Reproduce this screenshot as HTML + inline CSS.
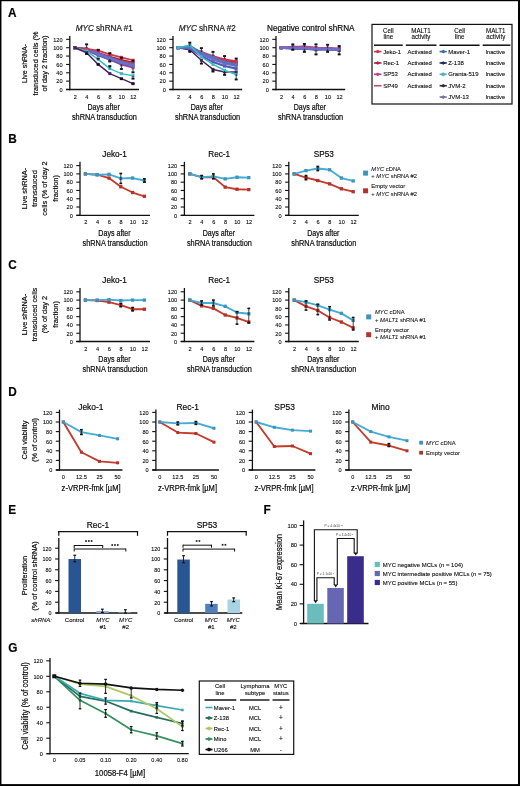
<!DOCTYPE html><html><head><meta charset="utf-8"><style>html,body{margin:0;padding:0;background:#fff;}#w{position:absolute;left:0;top:0;width:520px;height:786px;overflow:hidden;transform:translateZ(0);}svg{will-change:transform;filter:opacity(0.999);}svg{display:block;}text{stroke:#1a1a1a;stroke-width:0.2px;}text.s{stroke-width:0.1px;}</style></head><body><div id="w"><svg width="520" height="786" viewBox="0 0 520 786" font-family="Liberation Sans, sans-serif">
<rect x="0.00" y="0.00" width="520.00" height="786.00" fill="#fff"/>
<rect x="0.00" y="0.00" width="520.00" height="1.20" fill="#000"/>
<rect x="0.00" y="0.00" width="1.45" height="786.00" fill="#000"/>
<rect x="518.00" y="0.00" width="2.00" height="786.00" fill="#000"/>
<rect x="0.00" y="784.10" width="520.00" height="1.90" fill="#000"/>
<text x="7.90" y="16.90" font-size="12.74" text-anchor="start" textLength="8.52" lengthAdjust="spacingAndGlyphs" font-weight="bold" fill="#000">A</text>
<text x="8.30" y="142.80" font-size="12.74" text-anchor="start" textLength="8.52" lengthAdjust="spacingAndGlyphs" font-weight="bold" fill="#000">B</text>
<text x="8.30" y="269.20" font-size="12.74" text-anchor="start" textLength="8.52" lengthAdjust="spacingAndGlyphs" font-weight="bold" fill="#000">C</text>
<text x="8.30" y="396.00" font-size="12.74" text-anchor="start" textLength="8.52" lengthAdjust="spacingAndGlyphs" font-weight="bold" fill="#000">D</text>
<text x="8.30" y="514.20" font-size="12.74" text-anchor="start" textLength="7.87" lengthAdjust="spacingAndGlyphs" font-weight="bold" fill="#000">E</text>
<text x="263.60" y="514.20" font-size="12.74" text-anchor="start" textLength="7.21" lengthAdjust="spacingAndGlyphs" font-weight="bold" fill="#000">F</text>
<text x="8.30" y="652.20" font-size="12.74" text-anchor="start" textLength="9.18" lengthAdjust="spacingAndGlyphs" font-weight="bold" fill="#000">G</text>
<line x1="69.80" y1="36.00" x2="69.80" y2="90.15" stroke="#111" stroke-width="1.3" stroke-linecap="butt"/>
<line x1="66.10" y1="89.50" x2="139.00" y2="89.50" stroke="#111" stroke-width="1.3" stroke-linecap="butt"/>
<line x1="66.10" y1="89.50" x2="69.80" y2="89.50" stroke="#111" stroke-width="1.1" stroke-linecap="butt"/>
<text x="62.60" y="91.80" font-size="6.05" text-anchor="end" textLength="3.11" lengthAdjust="spacingAndGlyphs" class="s">0</text>
<line x1="66.10" y1="81.14" x2="69.80" y2="81.14" stroke="#111" stroke-width="1.1" stroke-linecap="butt"/>
<text x="62.60" y="83.44" font-size="6.05" text-anchor="end" textLength="6.23" lengthAdjust="spacingAndGlyphs" class="s">20</text>
<line x1="66.10" y1="72.78" x2="69.80" y2="72.78" stroke="#111" stroke-width="1.1" stroke-linecap="butt"/>
<text x="62.60" y="75.08" font-size="6.05" text-anchor="end" textLength="6.23" lengthAdjust="spacingAndGlyphs" class="s">40</text>
<line x1="66.10" y1="64.42" x2="69.80" y2="64.42" stroke="#111" stroke-width="1.1" stroke-linecap="butt"/>
<text x="62.60" y="66.72" font-size="6.05" text-anchor="end" textLength="6.23" lengthAdjust="spacingAndGlyphs" class="s">60</text>
<line x1="66.10" y1="56.06" x2="69.80" y2="56.06" stroke="#111" stroke-width="1.1" stroke-linecap="butt"/>
<text x="62.60" y="58.36" font-size="6.05" text-anchor="end" textLength="6.23" lengthAdjust="spacingAndGlyphs" class="s">80</text>
<line x1="66.10" y1="47.70" x2="69.80" y2="47.70" stroke="#111" stroke-width="1.1" stroke-linecap="butt"/>
<text x="62.60" y="50.00" font-size="6.05" text-anchor="end" textLength="9.34" lengthAdjust="spacingAndGlyphs" class="s">100</text>
<line x1="66.10" y1="39.34" x2="69.80" y2="39.34" stroke="#111" stroke-width="1.1" stroke-linecap="butt"/>
<text x="62.60" y="41.64" font-size="6.05" text-anchor="end" textLength="9.34" lengthAdjust="spacingAndGlyphs" class="s">120</text>
<polyline points="75.00,47.70 86.60,49.79 98.20,53.55 109.80,57.31 121.40,60.66 133.00,63.58" fill="none" stroke="#B85060" stroke-width="1.5" stroke-linejoin="round"/>
<rect x="73.50" y="46.20" width="3.00" height="3.00" fill="#B85060"/>
<rect x="85.10" y="48.29" width="3.00" height="3.00" fill="#B85060"/>
<rect x="96.70" y="52.05" width="3.00" height="3.00" fill="#B85060"/>
<rect x="108.30" y="55.81" width="3.00" height="3.00" fill="#B85060"/>
<rect x="119.90" y="59.16" width="3.00" height="3.00" fill="#B85060"/>
<rect x="131.50" y="62.08" width="3.00" height="3.00" fill="#B85060"/>
<polyline points="75.00,47.70 86.60,49.37 98.20,52.72 109.80,56.48 121.40,59.82 133.00,62.33" fill="none" stroke="#A8283E" stroke-width="1.5" stroke-linejoin="round"/>
<rect x="73.50" y="46.20" width="3.00" height="3.00" fill="#A8283E"/>
<rect x="85.10" y="47.87" width="3.00" height="3.00" fill="#A8283E"/>
<rect x="96.70" y="51.22" width="3.00" height="3.00" fill="#A8283E"/>
<rect x="108.30" y="54.98" width="3.00" height="3.00" fill="#A8283E"/>
<rect x="119.90" y="58.32" width="3.00" height="3.00" fill="#A8283E"/>
<rect x="131.50" y="60.83" width="3.00" height="3.00" fill="#A8283E"/>
<polyline points="75.00,47.70 86.60,49.79 98.20,54.81 109.80,59.82 121.40,64.84 133.00,67.76" fill="none" stroke="#B8408A" stroke-width="1.5" stroke-linejoin="round"/>
<rect x="73.50" y="46.20" width="3.00" height="3.00" fill="#B8408A"/>
<rect x="85.10" y="48.29" width="3.00" height="3.00" fill="#B8408A"/>
<rect x="96.70" y="53.31" width="3.00" height="3.00" fill="#B8408A"/>
<rect x="108.30" y="58.32" width="3.00" height="3.00" fill="#B8408A"/>
<rect x="119.90" y="63.34" width="3.00" height="3.00" fill="#B8408A"/>
<rect x="131.50" y="66.26" width="3.00" height="3.00" fill="#B8408A"/>
<polyline points="75.00,47.70 86.60,50.21 98.20,55.22 109.80,59.40 121.40,63.58 133.00,66.51" fill="none" stroke="#4F5BB0" stroke-width="2.1" stroke-linejoin="round"/>
<rect x="73.50" y="46.20" width="3.00" height="3.00" fill="#4F5BB0"/>
<rect x="85.10" y="48.71" width="3.00" height="3.00" fill="#4F5BB0"/>
<rect x="96.70" y="53.72" width="3.00" height="3.00" fill="#4F5BB0"/>
<rect x="108.30" y="57.90" width="3.00" height="3.00" fill="#4F5BB0"/>
<rect x="119.90" y="62.08" width="3.00" height="3.00" fill="#4F5BB0"/>
<rect x="131.50" y="65.01" width="3.00" height="3.00" fill="#4F5BB0"/>
<polyline points="75.00,47.70 86.60,48.54 98.20,53.55 109.80,57.73 121.40,61.91 133.00,64.84" fill="none" stroke="#5B6FC0" stroke-width="2.1" stroke-linejoin="round"/>
<rect x="73.50" y="46.20" width="3.00" height="3.00" fill="#5B6FC0"/>
<rect x="85.10" y="47.04" width="3.00" height="3.00" fill="#5B6FC0"/>
<rect x="96.70" y="52.05" width="3.00" height="3.00" fill="#5B6FC0"/>
<rect x="108.30" y="56.23" width="3.00" height="3.00" fill="#5B6FC0"/>
<rect x="119.90" y="60.41" width="3.00" height="3.00" fill="#5B6FC0"/>
<rect x="131.50" y="63.34" width="3.00" height="3.00" fill="#5B6FC0"/>
<polyline points="75.00,47.70 86.60,49.37 98.20,54.39 109.80,58.57 121.40,62.75 133.00,65.67" fill="none" stroke="#6E6EC8" stroke-width="2.1" stroke-linejoin="round"/>
<rect x="73.50" y="46.20" width="3.00" height="3.00" fill="#6E6EC8"/>
<rect x="85.10" y="47.87" width="3.00" height="3.00" fill="#6E6EC8"/>
<rect x="96.70" y="52.89" width="3.00" height="3.00" fill="#6E6EC8"/>
<rect x="108.30" y="57.07" width="3.00" height="3.00" fill="#6E6EC8"/>
<rect x="119.90" y="61.25" width="3.00" height="3.00" fill="#6E6EC8"/>
<rect x="131.50" y="64.17" width="3.00" height="3.00" fill="#6E6EC8"/>
<polyline points="75.00,47.70 86.60,48.95 98.20,50.63 109.80,54.39 121.40,57.31 133.00,60.24" fill="none" stroke="#D0344A" stroke-width="1.7" stroke-linejoin="round"/>
<rect x="73.50" y="46.20" width="3.00" height="3.00" fill="#D0344A"/>
<rect x="85.10" y="47.45" width="3.00" height="3.00" fill="#D0344A"/>
<rect x="96.70" y="49.13" width="3.00" height="3.00" fill="#D0344A"/>
<rect x="108.30" y="52.89" width="3.00" height="3.00" fill="#D0344A"/>
<rect x="119.90" y="55.81" width="3.00" height="3.00" fill="#D0344A"/>
<rect x="131.50" y="58.74" width="3.00" height="3.00" fill="#D0344A"/>
<polyline points="75.00,47.70 86.60,51.04 98.20,59.40 109.80,68.60 121.40,73.62 133.00,75.71" fill="none" stroke="#3ABCC8" stroke-width="1.5" stroke-linejoin="round"/>
<rect x="73.50" y="46.20" width="3.00" height="3.00" fill="#3ABCC8"/>
<rect x="85.10" y="49.54" width="3.00" height="3.00" fill="#3ABCC8"/>
<rect x="96.70" y="57.90" width="3.00" height="3.00" fill="#3ABCC8"/>
<rect x="108.30" y="67.10" width="3.00" height="3.00" fill="#3ABCC8"/>
<rect x="119.90" y="72.12" width="3.00" height="3.00" fill="#3ABCC8"/>
<rect x="131.50" y="74.21" width="3.00" height="3.00" fill="#3ABCC8"/>
<polyline points="75.00,47.70 86.60,52.72 98.20,64.42 109.80,73.62 121.40,78.63 133.00,83.65" fill="none" stroke="#4A2060" stroke-width="1.5" stroke-linejoin="round"/>
<rect x="73.50" y="46.20" width="3.00" height="3.00" fill="#4A2060"/>
<rect x="85.10" y="51.22" width="3.00" height="3.00" fill="#4A2060"/>
<rect x="96.70" y="62.92" width="3.00" height="3.00" fill="#4A2060"/>
<rect x="108.30" y="72.12" width="3.00" height="3.00" fill="#4A2060"/>
<rect x="119.90" y="77.13" width="3.00" height="3.00" fill="#4A2060"/>
<rect x="131.50" y="82.15" width="3.00" height="3.00" fill="#4A2060"/>
<line x1="86.60" y1="44.36" x2="86.60" y2="47.70" stroke="#111" stroke-width="0.8" stroke-linecap="butt"/>
<rect x="85.10" y="43.41" width="3.00" height="1.90" fill="#111"/>
<line x1="86.60" y1="53.97" x2="86.60" y2="52.72" stroke="#111" stroke-width="0.8" stroke-linecap="butt"/>
<rect x="85.10" y="53.02" width="3.00" height="1.90" fill="#111"/>
<line x1="98.20" y1="49.79" x2="98.20" y2="51.46" stroke="#111" stroke-width="0.8" stroke-linecap="butt"/>
<rect x="96.70" y="48.84" width="3.00" height="1.90" fill="#111"/>
<line x1="98.20" y1="58.57" x2="98.20" y2="59.40" stroke="#111" stroke-width="0.8" stroke-linecap="butt"/>
<rect x="96.70" y="57.62" width="3.00" height="1.90" fill="#111"/>
<line x1="98.20" y1="64.42" x2="98.20" y2="64.42" stroke="#111" stroke-width="0.8" stroke-linecap="butt"/>
<rect x="96.70" y="63.47" width="3.00" height="1.90" fill="#111"/>
<line x1="109.80" y1="53.13" x2="109.80" y2="55.22" stroke="#111" stroke-width="0.8" stroke-linecap="butt"/>
<rect x="108.30" y="52.18" width="3.00" height="1.90" fill="#111"/>
<line x1="109.80" y1="61.49" x2="109.80" y2="58.99" stroke="#111" stroke-width="0.8" stroke-linecap="butt"/>
<rect x="108.30" y="60.54" width="3.00" height="1.90" fill="#111"/>
<line x1="109.80" y1="66.09" x2="109.80" y2="68.60" stroke="#111" stroke-width="0.8" stroke-linecap="butt"/>
<rect x="108.30" y="65.14" width="3.00" height="1.90" fill="#111"/>
<line x1="121.40" y1="57.73" x2="121.40" y2="58.57" stroke="#111" stroke-width="0.8" stroke-linecap="butt"/>
<rect x="119.90" y="56.78" width="3.00" height="1.90" fill="#111"/>
<line x1="121.40" y1="69.02" x2="121.40" y2="64.42" stroke="#111" stroke-width="0.8" stroke-linecap="butt"/>
<rect x="119.90" y="68.07" width="3.00" height="1.90" fill="#111"/>
<line x1="121.40" y1="79.05" x2="121.40" y2="78.63" stroke="#111" stroke-width="0.8" stroke-linecap="butt"/>
<rect x="119.90" y="78.10" width="3.00" height="1.90" fill="#111"/>
<line x1="133.00" y1="60.66" x2="133.00" y2="61.08" stroke="#111" stroke-width="0.8" stroke-linecap="butt"/>
<rect x="131.50" y="59.71" width="3.00" height="1.90" fill="#111"/>
<line x1="133.00" y1="72.36" x2="133.00" y2="68.60" stroke="#111" stroke-width="0.8" stroke-linecap="butt"/>
<rect x="131.50" y="71.41" width="3.00" height="1.90" fill="#111"/>
<line x1="133.00" y1="78.63" x2="133.00" y2="75.71" stroke="#111" stroke-width="0.8" stroke-linecap="butt"/>
<rect x="131.50" y="77.68" width="3.00" height="1.90" fill="#111"/>
<line x1="133.00" y1="83.65" x2="133.00" y2="83.65" stroke="#111" stroke-width="0.8" stroke-linecap="butt"/>
<rect x="131.50" y="82.70" width="3.00" height="1.90" fill="#111"/>
<text x="75.30" y="98.90" font-size="5.88" text-anchor="middle" textLength="3.11" lengthAdjust="spacingAndGlyphs" class="s">2</text>
<text x="86.90" y="98.90" font-size="5.88" text-anchor="middle" textLength="3.11" lengthAdjust="spacingAndGlyphs" class="s">4</text>
<text x="98.50" y="98.90" font-size="5.88" text-anchor="middle" textLength="3.11" lengthAdjust="spacingAndGlyphs" class="s">6</text>
<text x="110.10" y="98.90" font-size="5.88" text-anchor="middle" textLength="3.11" lengthAdjust="spacingAndGlyphs" class="s">8</text>
<text x="121.70" y="98.90" font-size="5.88" text-anchor="middle" textLength="6.23" lengthAdjust="spacingAndGlyphs" class="s">10</text>
<text x="133.30" y="98.90" font-size="5.88" text-anchor="middle" textLength="6.23" lengthAdjust="spacingAndGlyphs" class="s">12</text>
<text x="103.60" y="109.80" font-size="8.58" text-anchor="middle" textLength="32.30" lengthAdjust="spacingAndGlyphs">Days after</text>
<text x="104.40" y="119.80" font-size="8.58" text-anchor="middle" textLength="65.00" lengthAdjust="spacingAndGlyphs">shRNA transduction</text>
<line x1="173.00" y1="36.00" x2="173.00" y2="90.15" stroke="#111" stroke-width="1.3" stroke-linecap="butt"/>
<line x1="169.30" y1="89.50" x2="242.20" y2="89.50" stroke="#111" stroke-width="1.3" stroke-linecap="butt"/>
<line x1="169.30" y1="89.50" x2="173.00" y2="89.50" stroke="#111" stroke-width="1.1" stroke-linecap="butt"/>
<text x="165.80" y="91.80" font-size="6.05" text-anchor="end" textLength="3.11" lengthAdjust="spacingAndGlyphs" class="s">0</text>
<line x1="169.30" y1="81.14" x2="173.00" y2="81.14" stroke="#111" stroke-width="1.1" stroke-linecap="butt"/>
<text x="165.80" y="83.44" font-size="6.05" text-anchor="end" textLength="6.23" lengthAdjust="spacingAndGlyphs" class="s">20</text>
<line x1="169.30" y1="72.78" x2="173.00" y2="72.78" stroke="#111" stroke-width="1.1" stroke-linecap="butt"/>
<text x="165.80" y="75.08" font-size="6.05" text-anchor="end" textLength="6.23" lengthAdjust="spacingAndGlyphs" class="s">40</text>
<line x1="169.30" y1="64.42" x2="173.00" y2="64.42" stroke="#111" stroke-width="1.1" stroke-linecap="butt"/>
<text x="165.80" y="66.72" font-size="6.05" text-anchor="end" textLength="6.23" lengthAdjust="spacingAndGlyphs" class="s">60</text>
<line x1="169.30" y1="56.06" x2="173.00" y2="56.06" stroke="#111" stroke-width="1.1" stroke-linecap="butt"/>
<text x="165.80" y="58.36" font-size="6.05" text-anchor="end" textLength="6.23" lengthAdjust="spacingAndGlyphs" class="s">80</text>
<line x1="169.30" y1="47.70" x2="173.00" y2="47.70" stroke="#111" stroke-width="1.1" stroke-linecap="butt"/>
<text x="165.80" y="50.00" font-size="6.05" text-anchor="end" textLength="9.34" lengthAdjust="spacingAndGlyphs" class="s">100</text>
<line x1="169.30" y1="39.34" x2="173.00" y2="39.34" stroke="#111" stroke-width="1.1" stroke-linecap="butt"/>
<text x="165.80" y="41.64" font-size="6.05" text-anchor="end" textLength="9.34" lengthAdjust="spacingAndGlyphs" class="s">120</text>
<polyline points="178.20,47.70 189.80,48.12 201.40,53.55 213.00,58.15 224.60,61.49 236.20,63.17" fill="none" stroke="#B85060" stroke-width="1.5" stroke-linejoin="round"/>
<rect x="176.70" y="46.20" width="3.00" height="3.00" fill="#B85060"/>
<rect x="188.30" y="46.62" width="3.00" height="3.00" fill="#B85060"/>
<rect x="199.90" y="52.05" width="3.00" height="3.00" fill="#B85060"/>
<rect x="211.50" y="56.65" width="3.00" height="3.00" fill="#B85060"/>
<rect x="223.10" y="59.99" width="3.00" height="3.00" fill="#B85060"/>
<rect x="234.70" y="61.67" width="3.00" height="3.00" fill="#B85060"/>
<polyline points="178.20,47.70 189.80,48.54 201.40,52.72 213.00,57.31 224.60,60.24 236.20,61.91" fill="none" stroke="#A8283E" stroke-width="1.5" stroke-linejoin="round"/>
<rect x="176.70" y="46.20" width="3.00" height="3.00" fill="#A8283E"/>
<rect x="188.30" y="47.04" width="3.00" height="3.00" fill="#A8283E"/>
<rect x="199.90" y="51.22" width="3.00" height="3.00" fill="#A8283E"/>
<rect x="211.50" y="55.81" width="3.00" height="3.00" fill="#A8283E"/>
<rect x="223.10" y="58.74" width="3.00" height="3.00" fill="#A8283E"/>
<rect x="234.70" y="60.41" width="3.00" height="3.00" fill="#A8283E"/>
<polyline points="178.20,47.70 189.80,48.95 201.40,53.97 213.00,58.99 224.60,62.75 236.20,64.42" fill="none" stroke="#B8408A" stroke-width="1.5" stroke-linejoin="round"/>
<rect x="176.70" y="46.20" width="3.00" height="3.00" fill="#B8408A"/>
<rect x="188.30" y="47.45" width="3.00" height="3.00" fill="#B8408A"/>
<rect x="199.90" y="52.47" width="3.00" height="3.00" fill="#B8408A"/>
<rect x="211.50" y="57.49" width="3.00" height="3.00" fill="#B8408A"/>
<rect x="223.10" y="61.25" width="3.00" height="3.00" fill="#B8408A"/>
<rect x="234.70" y="62.92" width="3.00" height="3.00" fill="#B8408A"/>
<polyline points="178.20,47.70 189.80,47.70 201.40,51.88 213.00,56.06 224.60,59.40 236.20,61.08" fill="none" stroke="#D0344A" stroke-width="1.7" stroke-linejoin="round"/>
<rect x="176.70" y="46.20" width="3.00" height="3.00" fill="#D0344A"/>
<rect x="188.30" y="46.20" width="3.00" height="3.00" fill="#D0344A"/>
<rect x="199.90" y="50.38" width="3.00" height="3.00" fill="#D0344A"/>
<rect x="211.50" y="54.56" width="3.00" height="3.00" fill="#D0344A"/>
<rect x="223.10" y="57.90" width="3.00" height="3.00" fill="#D0344A"/>
<rect x="234.70" y="59.58" width="3.00" height="3.00" fill="#D0344A"/>
<polyline points="178.20,47.70 189.80,49.79 201.40,60.24 213.00,69.44 224.60,71.94 236.20,71.94" fill="none" stroke="#4A2060" stroke-width="1.5" stroke-linejoin="round"/>
<rect x="176.70" y="46.20" width="3.00" height="3.00" fill="#4A2060"/>
<rect x="188.30" y="48.29" width="3.00" height="3.00" fill="#4A2060"/>
<rect x="199.90" y="58.74" width="3.00" height="3.00" fill="#4A2060"/>
<rect x="211.50" y="67.94" width="3.00" height="3.00" fill="#4A2060"/>
<rect x="223.10" y="70.44" width="3.00" height="3.00" fill="#4A2060"/>
<rect x="234.70" y="70.44" width="3.00" height="3.00" fill="#4A2060"/>
<polyline points="178.20,47.70 189.80,48.54 201.40,56.06 213.00,61.91 224.60,66.09 236.20,68.60" fill="none" stroke="#4F5BB0" stroke-width="2.1" stroke-linejoin="round"/>
<rect x="176.70" y="46.20" width="3.00" height="3.00" fill="#4F5BB0"/>
<rect x="188.30" y="47.04" width="3.00" height="3.00" fill="#4F5BB0"/>
<rect x="199.90" y="54.56" width="3.00" height="3.00" fill="#4F5BB0"/>
<rect x="211.50" y="60.41" width="3.00" height="3.00" fill="#4F5BB0"/>
<rect x="223.10" y="64.59" width="3.00" height="3.00" fill="#4F5BB0"/>
<rect x="234.70" y="67.10" width="3.00" height="3.00" fill="#4F5BB0"/>
<polyline points="178.20,47.70 189.80,47.28 201.40,54.39 213.00,59.40 224.60,63.58 236.20,66.09" fill="none" stroke="#6E6EC8" stroke-width="2.1" stroke-linejoin="round"/>
<rect x="176.70" y="46.20" width="3.00" height="3.00" fill="#6E6EC8"/>
<rect x="188.30" y="45.78" width="3.00" height="3.00" fill="#6E6EC8"/>
<rect x="199.90" y="52.89" width="3.00" height="3.00" fill="#6E6EC8"/>
<rect x="211.50" y="57.90" width="3.00" height="3.00" fill="#6E6EC8"/>
<rect x="223.10" y="62.08" width="3.00" height="3.00" fill="#6E6EC8"/>
<rect x="234.70" y="64.59" width="3.00" height="3.00" fill="#6E6EC8"/>
<polyline points="178.20,47.70 189.80,46.03 201.40,52.72 213.00,56.90 224.60,61.91 236.20,64.42" fill="none" stroke="#5B6FC0" stroke-width="2.1" stroke-linejoin="round"/>
<rect x="176.70" y="46.20" width="3.00" height="3.00" fill="#5B6FC0"/>
<rect x="188.30" y="44.53" width="3.00" height="3.00" fill="#5B6FC0"/>
<rect x="199.90" y="51.22" width="3.00" height="3.00" fill="#5B6FC0"/>
<rect x="211.50" y="55.40" width="3.00" height="3.00" fill="#5B6FC0"/>
<rect x="223.10" y="60.41" width="3.00" height="3.00" fill="#5B6FC0"/>
<rect x="234.70" y="62.92" width="3.00" height="3.00" fill="#5B6FC0"/>
<polyline points="178.20,47.70 189.80,45.19 201.40,56.90 213.00,64.42 224.60,70.27 236.20,74.45" fill="none" stroke="#3ABCC8" stroke-width="1.5" stroke-linejoin="round"/>
<rect x="176.70" y="46.20" width="3.00" height="3.00" fill="#3ABCC8"/>
<rect x="188.30" y="43.69" width="3.00" height="3.00" fill="#3ABCC8"/>
<rect x="199.90" y="55.40" width="3.00" height="3.00" fill="#3ABCC8"/>
<rect x="211.50" y="62.92" width="3.00" height="3.00" fill="#3ABCC8"/>
<rect x="223.10" y="68.77" width="3.00" height="3.00" fill="#3ABCC8"/>
<rect x="234.70" y="72.95" width="3.00" height="3.00" fill="#3ABCC8"/>
<line x1="189.80" y1="42.68" x2="189.80" y2="46.03" stroke="#111" stroke-width="0.8" stroke-linecap="butt"/>
<rect x="188.30" y="41.73" width="3.00" height="1.90" fill="#111"/>
<line x1="189.80" y1="51.88" x2="189.80" y2="49.79" stroke="#111" stroke-width="0.8" stroke-linecap="butt"/>
<rect x="188.30" y="50.93" width="3.00" height="1.90" fill="#111"/>
<line x1="201.40" y1="48.12" x2="201.40" y2="51.88" stroke="#111" stroke-width="0.8" stroke-linecap="butt"/>
<rect x="199.90" y="47.17" width="3.00" height="1.90" fill="#111"/>
<line x1="201.40" y1="63.58" x2="201.40" y2="61.08" stroke="#111" stroke-width="0.8" stroke-linecap="butt"/>
<rect x="199.90" y="62.63" width="3.00" height="1.90" fill="#111"/>
<line x1="213.00" y1="51.88" x2="213.00" y2="56.06" stroke="#111" stroke-width="0.8" stroke-linecap="butt"/>
<rect x="211.50" y="50.93" width="3.00" height="1.90" fill="#111"/>
<line x1="213.00" y1="71.53" x2="213.00" y2="68.60" stroke="#111" stroke-width="0.8" stroke-linecap="butt"/>
<rect x="211.50" y="70.58" width="3.00" height="1.90" fill="#111"/>
<line x1="224.60" y1="56.06" x2="224.60" y2="58.57" stroke="#111" stroke-width="0.8" stroke-linecap="butt"/>
<rect x="223.10" y="55.11" width="3.00" height="1.90" fill="#111"/>
<line x1="224.60" y1="74.87" x2="224.60" y2="71.11" stroke="#111" stroke-width="0.8" stroke-linecap="butt"/>
<rect x="223.10" y="73.92" width="3.00" height="1.90" fill="#111"/>
<line x1="236.20" y1="58.57" x2="236.20" y2="60.24" stroke="#111" stroke-width="0.8" stroke-linecap="butt"/>
<rect x="234.70" y="57.62" width="3.00" height="1.90" fill="#111"/>
<line x1="236.20" y1="79.47" x2="236.20" y2="73.62" stroke="#111" stroke-width="0.8" stroke-linecap="butt"/>
<rect x="234.70" y="78.52" width="3.00" height="1.90" fill="#111"/>
<text x="178.50" y="98.90" font-size="5.88" text-anchor="middle" textLength="3.11" lengthAdjust="spacingAndGlyphs" class="s">2</text>
<text x="190.10" y="98.90" font-size="5.88" text-anchor="middle" textLength="3.11" lengthAdjust="spacingAndGlyphs" class="s">4</text>
<text x="201.70" y="98.90" font-size="5.88" text-anchor="middle" textLength="3.11" lengthAdjust="spacingAndGlyphs" class="s">6</text>
<text x="213.30" y="98.90" font-size="5.88" text-anchor="middle" textLength="3.11" lengthAdjust="spacingAndGlyphs" class="s">8</text>
<text x="224.90" y="98.90" font-size="5.88" text-anchor="middle" textLength="6.23" lengthAdjust="spacingAndGlyphs" class="s">10</text>
<text x="236.50" y="98.90" font-size="5.88" text-anchor="middle" textLength="6.23" lengthAdjust="spacingAndGlyphs" class="s">12</text>
<text x="206.80" y="109.80" font-size="8.58" text-anchor="middle" textLength="32.30" lengthAdjust="spacingAndGlyphs">Days after</text>
<text x="207.60" y="119.80" font-size="8.58" text-anchor="middle" textLength="65.00" lengthAdjust="spacingAndGlyphs">shRNA transduction</text>
<line x1="276.00" y1="36.00" x2="276.00" y2="90.15" stroke="#111" stroke-width="1.3" stroke-linecap="butt"/>
<line x1="272.30" y1="89.50" x2="345.20" y2="89.50" stroke="#111" stroke-width="1.3" stroke-linecap="butt"/>
<line x1="272.30" y1="89.50" x2="276.00" y2="89.50" stroke="#111" stroke-width="1.1" stroke-linecap="butt"/>
<text x="268.80" y="91.80" font-size="6.05" text-anchor="end" textLength="3.11" lengthAdjust="spacingAndGlyphs" class="s">0</text>
<line x1="272.30" y1="81.14" x2="276.00" y2="81.14" stroke="#111" stroke-width="1.1" stroke-linecap="butt"/>
<text x="268.80" y="83.44" font-size="6.05" text-anchor="end" textLength="6.23" lengthAdjust="spacingAndGlyphs" class="s">20</text>
<line x1="272.30" y1="72.78" x2="276.00" y2="72.78" stroke="#111" stroke-width="1.1" stroke-linecap="butt"/>
<text x="268.80" y="75.08" font-size="6.05" text-anchor="end" textLength="6.23" lengthAdjust="spacingAndGlyphs" class="s">40</text>
<line x1="272.30" y1="64.42" x2="276.00" y2="64.42" stroke="#111" stroke-width="1.1" stroke-linecap="butt"/>
<text x="268.80" y="66.72" font-size="6.05" text-anchor="end" textLength="6.23" lengthAdjust="spacingAndGlyphs" class="s">60</text>
<line x1="272.30" y1="56.06" x2="276.00" y2="56.06" stroke="#111" stroke-width="1.1" stroke-linecap="butt"/>
<text x="268.80" y="58.36" font-size="6.05" text-anchor="end" textLength="6.23" lengthAdjust="spacingAndGlyphs" class="s">80</text>
<line x1="272.30" y1="47.70" x2="276.00" y2="47.70" stroke="#111" stroke-width="1.1" stroke-linecap="butt"/>
<text x="268.80" y="50.00" font-size="6.05" text-anchor="end" textLength="9.34" lengthAdjust="spacingAndGlyphs" class="s">100</text>
<line x1="272.30" y1="39.34" x2="276.00" y2="39.34" stroke="#111" stroke-width="1.1" stroke-linecap="butt"/>
<text x="268.80" y="41.64" font-size="6.05" text-anchor="end" textLength="9.34" lengthAdjust="spacingAndGlyphs" class="s">120</text>
<polyline points="281.20,47.70 292.80,48.12 304.40,48.54 316.00,49.37 327.60,48.95 339.20,49.79" fill="none" stroke="#3ABCC8" stroke-width="1.5" stroke-linejoin="round"/>
<rect x="279.70" y="46.20" width="3.00" height="3.00" fill="#3ABCC8"/>
<rect x="291.30" y="46.62" width="3.00" height="3.00" fill="#3ABCC8"/>
<rect x="302.90" y="47.04" width="3.00" height="3.00" fill="#3ABCC8"/>
<rect x="314.50" y="47.87" width="3.00" height="3.00" fill="#3ABCC8"/>
<rect x="326.10" y="47.45" width="3.00" height="3.00" fill="#3ABCC8"/>
<rect x="337.70" y="48.29" width="3.00" height="3.00" fill="#3ABCC8"/>
<polyline points="281.20,47.70 292.80,48.54 304.40,48.95 316.00,49.79 327.60,49.37 339.20,50.21" fill="none" stroke="#4A2060" stroke-width="1.5" stroke-linejoin="round"/>
<rect x="279.70" y="46.20" width="3.00" height="3.00" fill="#4A2060"/>
<rect x="291.30" y="47.04" width="3.00" height="3.00" fill="#4A2060"/>
<rect x="302.90" y="47.45" width="3.00" height="3.00" fill="#4A2060"/>
<rect x="314.50" y="48.29" width="3.00" height="3.00" fill="#4A2060"/>
<rect x="326.10" y="47.87" width="3.00" height="3.00" fill="#4A2060"/>
<rect x="337.70" y="48.71" width="3.00" height="3.00" fill="#4A2060"/>
<polyline points="281.20,47.70 292.80,47.70 304.40,47.70 316.00,48.12 327.60,48.54 339.20,48.95" fill="none" stroke="#B85060" stroke-width="1.5" stroke-linejoin="round"/>
<rect x="279.70" y="46.20" width="3.00" height="3.00" fill="#B85060"/>
<rect x="291.30" y="46.20" width="3.00" height="3.00" fill="#B85060"/>
<rect x="302.90" y="46.20" width="3.00" height="3.00" fill="#B85060"/>
<rect x="314.50" y="46.62" width="3.00" height="3.00" fill="#B85060"/>
<rect x="326.10" y="47.04" width="3.00" height="3.00" fill="#B85060"/>
<rect x="337.70" y="47.45" width="3.00" height="3.00" fill="#B85060"/>
<polyline points="281.20,47.70 292.80,47.70 304.40,47.70 316.00,48.12 327.60,48.54 339.20,48.95" fill="none" stroke="#A8283E" stroke-width="1.5" stroke-linejoin="round"/>
<rect x="279.70" y="46.20" width="3.00" height="3.00" fill="#A8283E"/>
<rect x="291.30" y="46.20" width="3.00" height="3.00" fill="#A8283E"/>
<rect x="302.90" y="46.20" width="3.00" height="3.00" fill="#A8283E"/>
<rect x="314.50" y="46.62" width="3.00" height="3.00" fill="#A8283E"/>
<rect x="326.10" y="47.04" width="3.00" height="3.00" fill="#A8283E"/>
<rect x="337.70" y="47.45" width="3.00" height="3.00" fill="#A8283E"/>
<polyline points="281.20,47.70 292.80,48.54 304.40,48.54 316.00,49.37 327.60,49.37 339.20,50.21" fill="none" stroke="#4F5BB0" stroke-width="2.2" stroke-linejoin="round"/>
<rect x="279.70" y="46.20" width="3.00" height="3.00" fill="#4F5BB0"/>
<rect x="291.30" y="47.04" width="3.00" height="3.00" fill="#4F5BB0"/>
<rect x="302.90" y="47.04" width="3.00" height="3.00" fill="#4F5BB0"/>
<rect x="314.50" y="47.87" width="3.00" height="3.00" fill="#4F5BB0"/>
<rect x="326.10" y="47.87" width="3.00" height="3.00" fill="#4F5BB0"/>
<rect x="337.70" y="48.71" width="3.00" height="3.00" fill="#4F5BB0"/>
<polyline points="281.20,47.70 292.80,47.70 304.40,47.70 316.00,48.12 327.60,48.54 339.20,48.95" fill="none" stroke="#5B6FC0" stroke-width="2.4" stroke-linejoin="round"/>
<rect x="279.70" y="46.20" width="3.00" height="3.00" fill="#5B6FC0"/>
<rect x="291.30" y="46.20" width="3.00" height="3.00" fill="#5B6FC0"/>
<rect x="302.90" y="46.20" width="3.00" height="3.00" fill="#5B6FC0"/>
<rect x="314.50" y="46.62" width="3.00" height="3.00" fill="#5B6FC0"/>
<rect x="326.10" y="47.04" width="3.00" height="3.00" fill="#5B6FC0"/>
<rect x="337.70" y="47.45" width="3.00" height="3.00" fill="#5B6FC0"/>
<polyline points="281.20,47.70 292.80,47.28 304.40,46.45 316.00,47.70 327.60,48.12 339.20,48.54" fill="none" stroke="#D0344A" stroke-width="1.8" stroke-linejoin="round"/>
<rect x="279.70" y="46.20" width="3.00" height="3.00" fill="#D0344A"/>
<rect x="291.30" y="45.78" width="3.00" height="3.00" fill="#D0344A"/>
<rect x="302.90" y="44.95" width="3.00" height="3.00" fill="#D0344A"/>
<rect x="314.50" y="46.20" width="3.00" height="3.00" fill="#D0344A"/>
<rect x="326.10" y="46.62" width="3.00" height="3.00" fill="#D0344A"/>
<rect x="337.70" y="47.04" width="3.00" height="3.00" fill="#D0344A"/>
<polyline points="281.20,47.70 292.80,46.86 304.40,46.86 316.00,48.54 327.60,48.54 339.20,49.37" fill="none" stroke="#B8408A" stroke-width="2.0" stroke-linejoin="round"/>
<rect x="279.70" y="46.20" width="3.00" height="3.00" fill="#B8408A"/>
<rect x="291.30" y="45.36" width="3.00" height="3.00" fill="#B8408A"/>
<rect x="302.90" y="45.36" width="3.00" height="3.00" fill="#B8408A"/>
<rect x="314.50" y="47.04" width="3.00" height="3.00" fill="#B8408A"/>
<rect x="326.10" y="47.04" width="3.00" height="3.00" fill="#B8408A"/>
<rect x="337.70" y="47.87" width="3.00" height="3.00" fill="#B8408A"/>
<polyline points="281.20,47.70 292.80,48.12 304.40,48.12 316.00,48.95 327.60,48.95 339.20,49.79" fill="none" stroke="#6E6EC8" stroke-width="2.8" stroke-linejoin="round"/>
<rect x="279.70" y="46.20" width="3.00" height="3.00" fill="#6E6EC8"/>
<rect x="291.30" y="46.62" width="3.00" height="3.00" fill="#6E6EC8"/>
<rect x="302.90" y="46.62" width="3.00" height="3.00" fill="#6E6EC8"/>
<rect x="314.50" y="47.45" width="3.00" height="3.00" fill="#6E6EC8"/>
<rect x="326.10" y="47.45" width="3.00" height="3.00" fill="#6E6EC8"/>
<rect x="337.70" y="48.29" width="3.00" height="3.00" fill="#6E6EC8"/>
<line x1="292.80" y1="44.36" x2="292.80" y2="47.28" stroke="#111" stroke-width="0.8" stroke-linecap="butt"/>
<rect x="291.30" y="43.41" width="3.00" height="1.90" fill="#111"/>
<line x1="292.80" y1="49.79" x2="292.80" y2="48.12" stroke="#111" stroke-width="0.8" stroke-linecap="butt"/>
<rect x="291.30" y="48.84" width="3.00" height="1.90" fill="#111"/>
<line x1="304.40" y1="43.94" x2="304.40" y2="46.86" stroke="#111" stroke-width="0.8" stroke-linecap="butt"/>
<rect x="302.90" y="42.99" width="3.00" height="1.90" fill="#111"/>
<line x1="304.40" y1="51.88" x2="304.40" y2="48.95" stroke="#111" stroke-width="0.8" stroke-linecap="butt"/>
<rect x="302.90" y="50.93" width="3.00" height="1.90" fill="#111"/>
<line x1="316.00" y1="44.36" x2="316.00" y2="47.70" stroke="#111" stroke-width="0.8" stroke-linecap="butt"/>
<rect x="314.50" y="43.41" width="3.00" height="1.90" fill="#111"/>
<line x1="316.00" y1="54.39" x2="316.00" y2="49.79" stroke="#111" stroke-width="0.8" stroke-linecap="butt"/>
<rect x="314.50" y="53.44" width="3.00" height="1.90" fill="#111"/>
<line x1="327.60" y1="44.77" x2="327.60" y2="48.12" stroke="#111" stroke-width="0.8" stroke-linecap="butt"/>
<rect x="326.10" y="43.82" width="3.00" height="1.90" fill="#111"/>
<line x1="327.60" y1="51.88" x2="327.60" y2="49.37" stroke="#111" stroke-width="0.8" stroke-linecap="butt"/>
<rect x="326.10" y="50.93" width="3.00" height="1.90" fill="#111"/>
<line x1="339.20" y1="46.03" x2="339.20" y2="48.54" stroke="#111" stroke-width="0.8" stroke-linecap="butt"/>
<rect x="337.70" y="45.08" width="3.00" height="1.90" fill="#111"/>
<line x1="339.20" y1="54.39" x2="339.20" y2="50.21" stroke="#111" stroke-width="0.8" stroke-linecap="butt"/>
<rect x="337.70" y="53.44" width="3.00" height="1.90" fill="#111"/>
<text x="281.50" y="98.90" font-size="5.88" text-anchor="middle" textLength="3.11" lengthAdjust="spacingAndGlyphs" class="s">2</text>
<text x="293.10" y="98.90" font-size="5.88" text-anchor="middle" textLength="3.11" lengthAdjust="spacingAndGlyphs" class="s">4</text>
<text x="304.70" y="98.90" font-size="5.88" text-anchor="middle" textLength="3.11" lengthAdjust="spacingAndGlyphs" class="s">6</text>
<text x="316.30" y="98.90" font-size="5.88" text-anchor="middle" textLength="3.11" lengthAdjust="spacingAndGlyphs" class="s">8</text>
<text x="327.90" y="98.90" font-size="5.88" text-anchor="middle" textLength="6.23" lengthAdjust="spacingAndGlyphs" class="s">10</text>
<text x="339.50" y="98.90" font-size="5.88" text-anchor="middle" textLength="6.23" lengthAdjust="spacingAndGlyphs" class="s">12</text>
<text x="309.80" y="109.80" font-size="8.58" text-anchor="middle" textLength="32.30" lengthAdjust="spacingAndGlyphs">Days after</text>
<text x="310.60" y="119.80" font-size="8.58" text-anchor="middle" textLength="65.00" lengthAdjust="spacingAndGlyphs">shRNA transduction</text>
<text x="104.20" y="30.90" font-size="8.20" text-anchor="middle" textLength="57.00" lengthAdjust="spacingAndGlyphs" fill="#1a1a1a" xml:space="preserve"><tspan font-style="italic">MYC</tspan> shRNA #1</text>
<text x="207.20" y="30.90" font-size="8.20" text-anchor="middle" textLength="57.00" lengthAdjust="spacingAndGlyphs" fill="#1a1a1a" xml:space="preserve"><tspan font-style="italic">MYC</tspan> shRNA #2</text>
<text x="310.80" y="30.90" font-size="8.20" text-anchor="middle" textLength="87.60" lengthAdjust="spacingAndGlyphs">Negative control shRNA</text>
<text x="26.90" y="63.50" font-size="7.77" text-anchor="middle" textLength="39.20" lengthAdjust="spacingAndGlyphs" transform="rotate(-90 26.90 63.50)">Live shRNA-</text>
<text x="37.70" y="63.50" font-size="7.77" text-anchor="middle" textLength="64.00" lengthAdjust="spacingAndGlyphs" transform="rotate(-90 37.70 63.50)">transduced cells (%</text>
<text x="47.30" y="63.50" font-size="7.77" text-anchor="middle" textLength="56.00" lengthAdjust="spacingAndGlyphs" transform="rotate(-90 47.30 63.50)">of day 2 fraction)</text>
<rect x="372.0" y="24.4" width="140.0" height="79.6" fill="none" stroke="#111" stroke-width="1.2"/>
<line x1="374.00" y1="45.20" x2="402.70" y2="45.20" stroke="#111" stroke-width="1.5" stroke-linecap="butt"/>
<line x1="405.80" y1="45.20" x2="436.50" y2="45.20" stroke="#111" stroke-width="1.5" stroke-linecap="butt"/>
<line x1="439.50" y1="45.20" x2="479.60" y2="45.20" stroke="#111" stroke-width="1.5" stroke-linecap="butt"/>
<line x1="482.70" y1="45.20" x2="510.40" y2="45.20" stroke="#111" stroke-width="1.5" stroke-linecap="butt"/>
<text x="388.40" y="32.50" font-size="6.51" text-anchor="middle" textLength="10.68" lengthAdjust="spacingAndGlyphs" class="s">Cell</text>
<text x="388.40" y="39.20" font-size="6.51" text-anchor="middle" textLength="9.65" lengthAdjust="spacingAndGlyphs" class="s">line</text>
<text x="421.00" y="32.50" font-size="6.51" text-anchor="middle" textLength="19.52" lengthAdjust="spacingAndGlyphs" class="s">MALT1</text>
<text x="421.00" y="39.20" font-size="6.51" text-anchor="middle" textLength="18.95" lengthAdjust="spacingAndGlyphs" class="s">activity</text>
<text x="459.60" y="32.50" font-size="6.51" text-anchor="middle" textLength="10.68" lengthAdjust="spacingAndGlyphs" class="s">Cell</text>
<text x="459.60" y="39.20" font-size="6.51" text-anchor="middle" textLength="9.65" lengthAdjust="spacingAndGlyphs" class="s">line</text>
<text x="495.80" y="32.50" font-size="6.51" text-anchor="middle" textLength="19.52" lengthAdjust="spacingAndGlyphs" class="s">MALT1</text>
<text x="495.80" y="39.20" font-size="6.51" text-anchor="middle" textLength="18.95" lengthAdjust="spacingAndGlyphs" class="s">activity</text>
<line x1="374.00" y1="51.60" x2="381.50" y2="51.60" stroke="#D0344A" stroke-width="1.6" stroke-linecap="butt"/>
<polygon points="375.15,51.60 377.75,49.78 380.35,51.60 377.75,53.42" fill="#D0344A"/>
<text x="383.20" y="53.60" font-size="6.00" text-anchor="start" textLength="18.01" lengthAdjust="spacingAndGlyphs" class="s">Jeko-1</text>
<text x="419.70" y="53.60" font-size="6.00" text-anchor="middle" textLength="24.20" lengthAdjust="spacingAndGlyphs" class="s">Activated</text>
<line x1="374.00" y1="62.97" x2="381.50" y2="62.97" stroke="#A8283E" stroke-width="1.6" stroke-linecap="butt"/>
<polygon points="375.15,62.97 377.75,61.15 380.35,62.97 377.75,64.79" fill="#A8283E"/>
<text x="383.20" y="64.97" font-size="6.00" text-anchor="start" textLength="16.00" lengthAdjust="spacingAndGlyphs" class="s">Rec-1</text>
<text x="419.70" y="64.97" font-size="6.00" text-anchor="middle" textLength="24.20" lengthAdjust="spacingAndGlyphs" class="s">Activated</text>
<line x1="374.00" y1="74.34" x2="381.50" y2="74.34" stroke="#B8408A" stroke-width="1.6" stroke-linecap="butt"/>
<polygon points="375.15,74.34 377.75,72.52 380.35,74.34 377.75,76.16" fill="#B8408A"/>
<text x="383.20" y="76.34" font-size="6.00" text-anchor="start" textLength="14.68" lengthAdjust="spacingAndGlyphs" class="s">SP53</text>
<text x="419.70" y="76.34" font-size="6.00" text-anchor="middle" textLength="24.20" lengthAdjust="spacingAndGlyphs" class="s">Activated</text>
<line x1="374.00" y1="85.71" x2="381.50" y2="85.71" stroke="#B85060" stroke-width="1.6" stroke-linecap="butt"/>
<text x="383.20" y="87.71" font-size="6.00" text-anchor="start" textLength="14.68" lengthAdjust="spacingAndGlyphs" class="s">SP49</text>
<text x="419.70" y="87.71" font-size="6.00" text-anchor="middle" textLength="24.20" lengthAdjust="spacingAndGlyphs" class="s">Activated</text>
<line x1="439.60" y1="51.60" x2="446.80" y2="51.60" stroke="#3A6E96" stroke-width="1.6" stroke-linecap="butt"/>
<polygon points="440.60,51.60 443.20,49.78 445.80,51.60 443.20,53.42" fill="#3A6E96"/>
<text x="448.20" y="53.60" font-size="6.00" text-anchor="start" textLength="22.01" lengthAdjust="spacingAndGlyphs" class="s">Maver-1</text>
<text x="495.30" y="53.60" font-size="6.00" text-anchor="middle" textLength="19.80" lengthAdjust="spacingAndGlyphs" class="s">Inactive</text>
<line x1="439.60" y1="62.97" x2="446.80" y2="62.97" stroke="#1F2A5A" stroke-width="1.6" stroke-linecap="butt"/>
<polygon points="440.60,62.97 443.20,61.15 445.80,62.97 443.20,64.79" fill="#1F2A5A"/>
<text x="448.20" y="64.97" font-size="6.00" text-anchor="start" textLength="15.67" lengthAdjust="spacingAndGlyphs" class="s">Z-138</text>
<text x="495.30" y="64.97" font-size="6.00" text-anchor="middle" textLength="19.80" lengthAdjust="spacingAndGlyphs" class="s">Inactive</text>
<line x1="439.60" y1="74.34" x2="446.80" y2="74.34" stroke="#5AAFC0" stroke-width="1.6" stroke-linecap="butt"/>
<polygon points="440.20,74.34 443.20,72.24 446.20,74.34 443.20,76.44" fill="#5AAFC0"/>
<text x="448.20" y="76.34" font-size="6.00" text-anchor="start" textLength="30.35" lengthAdjust="spacingAndGlyphs" class="s">Granta-519</text>
<text x="495.30" y="76.34" font-size="6.00" text-anchor="middle" textLength="19.80" lengthAdjust="spacingAndGlyphs" class="s">Inactive</text>
<line x1="439.60" y1="85.71" x2="446.80" y2="85.71" stroke="#3A2040" stroke-width="1.6" stroke-linecap="butt"/>
<polygon points="440.60,85.71 443.20,83.89 445.80,85.71 443.20,87.53" fill="#3A2040"/>
<text x="448.20" y="87.71" font-size="6.00" text-anchor="start" textLength="17.34" lengthAdjust="spacingAndGlyphs" class="s">JVM-2</text>
<text x="495.30" y="87.71" font-size="6.00" text-anchor="middle" textLength="19.80" lengthAdjust="spacingAndGlyphs" class="s">Inactive</text>
<line x1="439.60" y1="97.08" x2="446.80" y2="97.08" stroke="#7A70A0" stroke-width="1.6" stroke-linecap="butt"/>
<polygon points="440.60,97.08 443.20,95.26 445.80,97.08 443.20,98.90" fill="#7A70A0"/>
<text x="448.20" y="99.08" font-size="6.00" text-anchor="start" textLength="20.67" lengthAdjust="spacingAndGlyphs" class="s">JVM-13</text>
<text x="495.30" y="99.08" font-size="6.00" text-anchor="middle" textLength="19.80" lengthAdjust="spacingAndGlyphs" class="s">Inactive</text>
<line x1="80.00" y1="161.80" x2="80.00" y2="215.95" stroke="#111" stroke-width="1.3" stroke-linecap="butt"/>
<line x1="76.30" y1="215.30" x2="150.00" y2="215.30" stroke="#111" stroke-width="1.3" stroke-linecap="butt"/>
<line x1="76.30" y1="215.30" x2="80.00" y2="215.30" stroke="#111" stroke-width="1.1" stroke-linecap="butt"/>
<text x="72.80" y="217.60" font-size="6.05" text-anchor="end" textLength="3.11" lengthAdjust="spacingAndGlyphs" class="s">0</text>
<line x1="76.30" y1="207.02" x2="80.00" y2="207.02" stroke="#111" stroke-width="1.1" stroke-linecap="butt"/>
<text x="72.80" y="209.32" font-size="6.05" text-anchor="end" textLength="6.23" lengthAdjust="spacingAndGlyphs" class="s">20</text>
<line x1="76.30" y1="198.74" x2="80.00" y2="198.74" stroke="#111" stroke-width="1.1" stroke-linecap="butt"/>
<text x="72.80" y="201.04" font-size="6.05" text-anchor="end" textLength="6.23" lengthAdjust="spacingAndGlyphs" class="s">40</text>
<line x1="76.30" y1="190.46" x2="80.00" y2="190.46" stroke="#111" stroke-width="1.1" stroke-linecap="butt"/>
<text x="72.80" y="192.76" font-size="6.05" text-anchor="end" textLength="6.23" lengthAdjust="spacingAndGlyphs" class="s">60</text>
<line x1="76.30" y1="182.18" x2="80.00" y2="182.18" stroke="#111" stroke-width="1.1" stroke-linecap="butt"/>
<text x="72.80" y="184.48" font-size="6.05" text-anchor="end" textLength="6.23" lengthAdjust="spacingAndGlyphs" class="s">80</text>
<line x1="76.30" y1="173.90" x2="80.00" y2="173.90" stroke="#111" stroke-width="1.1" stroke-linecap="butt"/>
<text x="72.80" y="176.20" font-size="6.05" text-anchor="end" textLength="9.34" lengthAdjust="spacingAndGlyphs" class="s">100</text>
<line x1="76.30" y1="165.62" x2="80.00" y2="165.62" stroke="#111" stroke-width="1.1" stroke-linecap="butt"/>
<text x="72.80" y="167.92" font-size="6.05" text-anchor="end" textLength="9.34" lengthAdjust="spacingAndGlyphs" class="s">120</text>
<polyline points="85.40,173.90 97.20,174.73 109.00,178.04 120.80,186.73 132.60,192.53 144.40,196.26" fill="none" stroke="#C63A2B" stroke-width="1.85" stroke-linejoin="round"/>
<rect x="83.75" y="172.25" width="3.30" height="3.30" fill="#B5322A"/>
<rect x="95.55" y="173.08" width="3.30" height="3.30" fill="#B5322A"/>
<rect x="107.35" y="176.39" width="3.30" height="3.30" fill="#B5322A"/>
<rect x="119.15" y="185.08" width="3.30" height="3.30" fill="#B5322A"/>
<rect x="130.95" y="190.88" width="3.30" height="3.30" fill="#B5322A"/>
<rect x="142.75" y="194.61" width="3.30" height="3.30" fill="#B5322A"/>
<polyline points="85.40,173.90 97.20,174.73 109.00,174.31 120.80,178.45 132.60,178.04 144.40,180.52" fill="none" stroke="#44ABD2" stroke-width="1.85" stroke-linejoin="round"/>
<rect x="83.75" y="172.25" width="3.30" height="3.30" fill="#3A94BC"/>
<rect x="95.55" y="173.08" width="3.30" height="3.30" fill="#3A94BC"/>
<rect x="107.35" y="172.66" width="3.30" height="3.30" fill="#3A94BC"/>
<rect x="119.15" y="176.80" width="3.30" height="3.30" fill="#3A94BC"/>
<rect x="130.95" y="176.39" width="3.30" height="3.30" fill="#3A94BC"/>
<rect x="142.75" y="178.87" width="3.30" height="3.30" fill="#3A94BC"/>
<line x1="120.80" y1="173.49" x2="120.80" y2="183.42" stroke="#111" stroke-width="0.8" stroke-linecap="butt"/>
<rect x="119.40" y="172.69" width="2.80" height="1.60" fill="#111"/>
<rect x="119.40" y="182.62" width="2.80" height="1.60" fill="#111"/>
<line x1="144.40" y1="178.87" x2="144.40" y2="182.18" stroke="#111" stroke-width="0.8" stroke-linecap="butt"/>
<rect x="143.00" y="178.07" width="2.80" height="1.60" fill="#111"/>
<rect x="143.00" y="181.38" width="2.80" height="1.60" fill="#111"/>
<text x="85.70" y="224.30" font-size="5.88" text-anchor="middle" textLength="3.11" lengthAdjust="spacingAndGlyphs" class="s">2</text>
<text x="97.50" y="224.30" font-size="5.88" text-anchor="middle" textLength="3.11" lengthAdjust="spacingAndGlyphs" class="s">4</text>
<text x="109.30" y="224.30" font-size="5.88" text-anchor="middle" textLength="3.11" lengthAdjust="spacingAndGlyphs" class="s">6</text>
<text x="121.10" y="224.30" font-size="5.88" text-anchor="middle" textLength="3.11" lengthAdjust="spacingAndGlyphs" class="s">8</text>
<text x="132.90" y="224.30" font-size="5.88" text-anchor="middle" textLength="6.23" lengthAdjust="spacingAndGlyphs" class="s">10</text>
<text x="144.70" y="224.30" font-size="5.88" text-anchor="middle" textLength="6.23" lengthAdjust="spacingAndGlyphs" class="s">12</text>
<text x="114.50" y="235.70" font-size="8.47" text-anchor="middle" textLength="32.30" lengthAdjust="spacingAndGlyphs">Days after</text>
<text x="115.00" y="245.90" font-size="8.47" text-anchor="middle" textLength="65.00" lengthAdjust="spacingAndGlyphs">shRNA transduction</text>
<text x="114.60" y="157.00" font-size="9.02" text-anchor="middle" textLength="24.61" lengthAdjust="spacingAndGlyphs">Jeko-1</text>
<line x1="184.40" y1="161.80" x2="184.40" y2="215.95" stroke="#111" stroke-width="1.3" stroke-linecap="butt"/>
<line x1="180.70" y1="215.30" x2="254.40" y2="215.30" stroke="#111" stroke-width="1.3" stroke-linecap="butt"/>
<line x1="180.70" y1="215.30" x2="184.40" y2="215.30" stroke="#111" stroke-width="1.1" stroke-linecap="butt"/>
<text x="177.20" y="217.60" font-size="6.05" text-anchor="end" textLength="3.11" lengthAdjust="spacingAndGlyphs" class="s">0</text>
<line x1="180.70" y1="207.02" x2="184.40" y2="207.02" stroke="#111" stroke-width="1.1" stroke-linecap="butt"/>
<text x="177.20" y="209.32" font-size="6.05" text-anchor="end" textLength="6.23" lengthAdjust="spacingAndGlyphs" class="s">20</text>
<line x1="180.70" y1="198.74" x2="184.40" y2="198.74" stroke="#111" stroke-width="1.1" stroke-linecap="butt"/>
<text x="177.20" y="201.04" font-size="6.05" text-anchor="end" textLength="6.23" lengthAdjust="spacingAndGlyphs" class="s">40</text>
<line x1="180.70" y1="190.46" x2="184.40" y2="190.46" stroke="#111" stroke-width="1.1" stroke-linecap="butt"/>
<text x="177.20" y="192.76" font-size="6.05" text-anchor="end" textLength="6.23" lengthAdjust="spacingAndGlyphs" class="s">60</text>
<line x1="180.70" y1="182.18" x2="184.40" y2="182.18" stroke="#111" stroke-width="1.1" stroke-linecap="butt"/>
<text x="177.20" y="184.48" font-size="6.05" text-anchor="end" textLength="6.23" lengthAdjust="spacingAndGlyphs" class="s">80</text>
<line x1="180.70" y1="173.90" x2="184.40" y2="173.90" stroke="#111" stroke-width="1.1" stroke-linecap="butt"/>
<text x="177.20" y="176.20" font-size="6.05" text-anchor="end" textLength="9.34" lengthAdjust="spacingAndGlyphs" class="s">100</text>
<line x1="180.70" y1="165.62" x2="184.40" y2="165.62" stroke="#111" stroke-width="1.1" stroke-linecap="butt"/>
<text x="177.20" y="167.92" font-size="6.05" text-anchor="end" textLength="9.34" lengthAdjust="spacingAndGlyphs" class="s">120</text>
<polyline points="189.80,173.90 201.60,177.21 213.40,177.21 225.20,187.15 237.00,189.22 248.80,189.63" fill="none" stroke="#C63A2B" stroke-width="1.85" stroke-linejoin="round"/>
<rect x="188.15" y="172.25" width="3.30" height="3.30" fill="#B5322A"/>
<rect x="199.95" y="175.56" width="3.30" height="3.30" fill="#B5322A"/>
<rect x="211.75" y="175.56" width="3.30" height="3.30" fill="#B5322A"/>
<rect x="223.55" y="185.50" width="3.30" height="3.30" fill="#B5322A"/>
<rect x="235.35" y="187.57" width="3.30" height="3.30" fill="#B5322A"/>
<rect x="247.15" y="187.98" width="3.30" height="3.30" fill="#B5322A"/>
<polyline points="189.80,173.90 201.60,177.21 213.40,176.38 225.20,178.87 237.00,177.21 248.80,177.63" fill="none" stroke="#44ABD2" stroke-width="1.85" stroke-linejoin="round"/>
<rect x="188.15" y="172.25" width="3.30" height="3.30" fill="#3A94BC"/>
<rect x="199.95" y="175.56" width="3.30" height="3.30" fill="#3A94BC"/>
<rect x="211.75" y="174.73" width="3.30" height="3.30" fill="#3A94BC"/>
<rect x="223.55" y="177.22" width="3.30" height="3.30" fill="#3A94BC"/>
<rect x="235.35" y="175.56" width="3.30" height="3.30" fill="#3A94BC"/>
<rect x="247.15" y="175.98" width="3.30" height="3.30" fill="#3A94BC"/>
<line x1="201.60" y1="175.56" x2="201.60" y2="178.87" stroke="#111" stroke-width="0.8" stroke-linecap="butt"/>
<rect x="200.20" y="174.76" width="2.80" height="1.60" fill="#111"/>
<rect x="200.20" y="178.07" width="2.80" height="1.60" fill="#111"/>
<line x1="213.40" y1="173.90" x2="213.40" y2="178.87" stroke="#111" stroke-width="0.8" stroke-linecap="butt"/>
<rect x="212.00" y="173.10" width="2.80" height="1.60" fill="#111"/>
<rect x="212.00" y="178.07" width="2.80" height="1.60" fill="#111"/>
<text x="190.10" y="224.30" font-size="5.88" text-anchor="middle" textLength="3.11" lengthAdjust="spacingAndGlyphs" class="s">2</text>
<text x="201.90" y="224.30" font-size="5.88" text-anchor="middle" textLength="3.11" lengthAdjust="spacingAndGlyphs" class="s">4</text>
<text x="213.70" y="224.30" font-size="5.88" text-anchor="middle" textLength="3.11" lengthAdjust="spacingAndGlyphs" class="s">6</text>
<text x="225.50" y="224.30" font-size="5.88" text-anchor="middle" textLength="3.11" lengthAdjust="spacingAndGlyphs" class="s">8</text>
<text x="237.30" y="224.30" font-size="5.88" text-anchor="middle" textLength="6.23" lengthAdjust="spacingAndGlyphs" class="s">10</text>
<text x="249.10" y="224.30" font-size="5.88" text-anchor="middle" textLength="6.23" lengthAdjust="spacingAndGlyphs" class="s">12</text>
<text x="218.90" y="235.70" font-size="8.47" text-anchor="middle" textLength="32.30" lengthAdjust="spacingAndGlyphs">Days after</text>
<text x="219.40" y="245.90" font-size="8.47" text-anchor="middle" textLength="65.00" lengthAdjust="spacingAndGlyphs">shRNA transduction</text>
<text x="219.20" y="157.00" font-size="9.02" text-anchor="middle" textLength="21.87" lengthAdjust="spacingAndGlyphs">Rec-1</text>
<line x1="288.80" y1="161.80" x2="288.80" y2="215.95" stroke="#111" stroke-width="1.3" stroke-linecap="butt"/>
<line x1="285.10" y1="215.30" x2="358.80" y2="215.30" stroke="#111" stroke-width="1.3" stroke-linecap="butt"/>
<line x1="285.10" y1="215.30" x2="288.80" y2="215.30" stroke="#111" stroke-width="1.1" stroke-linecap="butt"/>
<text x="281.60" y="217.60" font-size="6.05" text-anchor="end" textLength="3.11" lengthAdjust="spacingAndGlyphs" class="s">0</text>
<line x1="285.10" y1="207.02" x2="288.80" y2="207.02" stroke="#111" stroke-width="1.1" stroke-linecap="butt"/>
<text x="281.60" y="209.32" font-size="6.05" text-anchor="end" textLength="6.23" lengthAdjust="spacingAndGlyphs" class="s">20</text>
<line x1="285.10" y1="198.74" x2="288.80" y2="198.74" stroke="#111" stroke-width="1.1" stroke-linecap="butt"/>
<text x="281.60" y="201.04" font-size="6.05" text-anchor="end" textLength="6.23" lengthAdjust="spacingAndGlyphs" class="s">40</text>
<line x1="285.10" y1="190.46" x2="288.80" y2="190.46" stroke="#111" stroke-width="1.1" stroke-linecap="butt"/>
<text x="281.60" y="192.76" font-size="6.05" text-anchor="end" textLength="6.23" lengthAdjust="spacingAndGlyphs" class="s">60</text>
<line x1="285.10" y1="182.18" x2="288.80" y2="182.18" stroke="#111" stroke-width="1.1" stroke-linecap="butt"/>
<text x="281.60" y="184.48" font-size="6.05" text-anchor="end" textLength="6.23" lengthAdjust="spacingAndGlyphs" class="s">80</text>
<line x1="285.10" y1="173.90" x2="288.80" y2="173.90" stroke="#111" stroke-width="1.1" stroke-linecap="butt"/>
<text x="281.60" y="176.20" font-size="6.05" text-anchor="end" textLength="9.34" lengthAdjust="spacingAndGlyphs" class="s">100</text>
<line x1="285.10" y1="165.62" x2="288.80" y2="165.62" stroke="#111" stroke-width="1.1" stroke-linecap="butt"/>
<text x="281.60" y="167.92" font-size="6.05" text-anchor="end" textLength="9.34" lengthAdjust="spacingAndGlyphs" class="s">120</text>
<polyline points="294.20,173.90 306.00,177.63 317.80,180.52 329.60,183.84 341.40,188.80 353.20,191.70" fill="none" stroke="#C63A2B" stroke-width="1.85" stroke-linejoin="round"/>
<rect x="292.55" y="172.25" width="3.30" height="3.30" fill="#B5322A"/>
<rect x="304.35" y="175.98" width="3.30" height="3.30" fill="#B5322A"/>
<rect x="316.15" y="178.87" width="3.30" height="3.30" fill="#B5322A"/>
<rect x="327.95" y="182.19" width="3.30" height="3.30" fill="#B5322A"/>
<rect x="339.75" y="187.15" width="3.30" height="3.30" fill="#B5322A"/>
<rect x="351.55" y="190.05" width="3.30" height="3.30" fill="#B5322A"/>
<polyline points="294.20,173.90 306.00,170.59 317.80,168.52 329.60,169.76 341.40,178.04 353.20,180.94" fill="none" stroke="#44ABD2" stroke-width="1.85" stroke-linejoin="round"/>
<rect x="292.55" y="172.25" width="3.30" height="3.30" fill="#3A94BC"/>
<rect x="304.35" y="168.94" width="3.30" height="3.30" fill="#3A94BC"/>
<rect x="316.15" y="166.87" width="3.30" height="3.30" fill="#3A94BC"/>
<rect x="327.95" y="168.11" width="3.30" height="3.30" fill="#3A94BC"/>
<rect x="339.75" y="176.39" width="3.30" height="3.30" fill="#3A94BC"/>
<rect x="351.55" y="179.29" width="3.30" height="3.30" fill="#3A94BC"/>
<line x1="306.00" y1="175.56" x2="306.00" y2="179.70" stroke="#111" stroke-width="0.8" stroke-linecap="butt"/>
<rect x="304.60" y="174.76" width="2.80" height="1.60" fill="#111"/>
<rect x="304.60" y="178.90" width="2.80" height="1.60" fill="#111"/>
<line x1="317.80" y1="166.45" x2="317.80" y2="170.59" stroke="#111" stroke-width="0.8" stroke-linecap="butt"/>
<rect x="316.40" y="165.65" width="2.80" height="1.60" fill="#111"/>
<rect x="316.40" y="169.79" width="2.80" height="1.60" fill="#111"/>
<text x="294.50" y="224.30" font-size="5.88" text-anchor="middle" textLength="3.11" lengthAdjust="spacingAndGlyphs" class="s">2</text>
<text x="306.30" y="224.30" font-size="5.88" text-anchor="middle" textLength="3.11" lengthAdjust="spacingAndGlyphs" class="s">4</text>
<text x="318.10" y="224.30" font-size="5.88" text-anchor="middle" textLength="3.11" lengthAdjust="spacingAndGlyphs" class="s">6</text>
<text x="329.90" y="224.30" font-size="5.88" text-anchor="middle" textLength="3.11" lengthAdjust="spacingAndGlyphs" class="s">8</text>
<text x="341.70" y="224.30" font-size="5.88" text-anchor="middle" textLength="6.23" lengthAdjust="spacingAndGlyphs" class="s">10</text>
<text x="353.50" y="224.30" font-size="5.88" text-anchor="middle" textLength="6.23" lengthAdjust="spacingAndGlyphs" class="s">12</text>
<text x="323.30" y="235.70" font-size="8.47" text-anchor="middle" textLength="32.30" lengthAdjust="spacingAndGlyphs">Days after</text>
<text x="323.80" y="245.90" font-size="8.47" text-anchor="middle" textLength="65.00" lengthAdjust="spacingAndGlyphs">shRNA transduction</text>
<text x="323.80" y="157.00" font-size="9.02" text-anchor="middle" textLength="20.06" lengthAdjust="spacingAndGlyphs">SP53</text>
<text x="26.50" y="188.50" font-size="7.99" text-anchor="middle" textLength="41.53" lengthAdjust="spacingAndGlyphs" transform="rotate(-90 26.50 188.50)">Live shRNA-</text>
<text x="37.30" y="188.50" font-size="7.99" text-anchor="middle" textLength="36.61" lengthAdjust="spacingAndGlyphs" transform="rotate(-90 37.30 188.50)">transduced</text>
<text x="47.30" y="188.50" font-size="7.99" text-anchor="middle" textLength="54.29" lengthAdjust="spacingAndGlyphs" transform="rotate(-90 47.30 188.50)">cells (% of day 2</text>
<text x="58.10" y="188.50" font-size="7.99" text-anchor="middle" textLength="26.73" lengthAdjust="spacingAndGlyphs" transform="rotate(-90 58.10 188.50)">fraction)</text>
<rect x="363.10" y="170.60" width="5.00" height="5.00" fill="#3A94BC"/>
<rect x="363.10" y="188.30" width="5.00" height="5.00" fill="#B5322A"/>
<text class="s" x="371.30" y="170.90" font-size="5.80" text-anchor="start" textLength="29.65" lengthAdjust="spacingAndGlyphs" fill="#1a1a1a" xml:space="preserve"><tspan font-style="italic">MYC</tspan> cDNA</text>
<text class="s" x="371.30" y="178.10" font-size="5.80" text-anchor="start" textLength="45.61" lengthAdjust="spacingAndGlyphs" fill="#1a1a1a" xml:space="preserve">+ <tspan font-style="italic">MYC</tspan> shRNA #2</text>
<text class="s" x="371.30" y="188.40" font-size="5.80" text-anchor="start" textLength="33.84" lengthAdjust="spacingAndGlyphs" fill="#1a1a1a" xml:space="preserve">Empty vector</text>
<text class="s" x="371.30" y="195.60" font-size="5.80" text-anchor="start" textLength="45.61" lengthAdjust="spacingAndGlyphs" fill="#1a1a1a" xml:space="preserve">+ <tspan font-style="italic">MYC</tspan> shRNA #2</text>
<line x1="80.00" y1="288.00" x2="80.00" y2="342.15" stroke="#111" stroke-width="1.3" stroke-linecap="butt"/>
<line x1="76.30" y1="341.50" x2="150.00" y2="341.50" stroke="#111" stroke-width="1.3" stroke-linecap="butt"/>
<line x1="76.30" y1="341.50" x2="80.00" y2="341.50" stroke="#111" stroke-width="1.1" stroke-linecap="butt"/>
<text x="72.80" y="343.80" font-size="6.05" text-anchor="end" textLength="3.11" lengthAdjust="spacingAndGlyphs" class="s">0</text>
<line x1="76.30" y1="333.22" x2="80.00" y2="333.22" stroke="#111" stroke-width="1.1" stroke-linecap="butt"/>
<text x="72.80" y="335.52" font-size="6.05" text-anchor="end" textLength="6.23" lengthAdjust="spacingAndGlyphs" class="s">20</text>
<line x1="76.30" y1="324.94" x2="80.00" y2="324.94" stroke="#111" stroke-width="1.1" stroke-linecap="butt"/>
<text x="72.80" y="327.24" font-size="6.05" text-anchor="end" textLength="6.23" lengthAdjust="spacingAndGlyphs" class="s">40</text>
<line x1="76.30" y1="316.66" x2="80.00" y2="316.66" stroke="#111" stroke-width="1.1" stroke-linecap="butt"/>
<text x="72.80" y="318.96" font-size="6.05" text-anchor="end" textLength="6.23" lengthAdjust="spacingAndGlyphs" class="s">60</text>
<line x1="76.30" y1="308.38" x2="80.00" y2="308.38" stroke="#111" stroke-width="1.1" stroke-linecap="butt"/>
<text x="72.80" y="310.68" font-size="6.05" text-anchor="end" textLength="6.23" lengthAdjust="spacingAndGlyphs" class="s">80</text>
<line x1="76.30" y1="300.10" x2="80.00" y2="300.10" stroke="#111" stroke-width="1.1" stroke-linecap="butt"/>
<text x="72.80" y="302.40" font-size="6.05" text-anchor="end" textLength="9.34" lengthAdjust="spacingAndGlyphs" class="s">100</text>
<line x1="76.30" y1="291.82" x2="80.00" y2="291.82" stroke="#111" stroke-width="1.1" stroke-linecap="butt"/>
<text x="72.80" y="294.12" font-size="6.05" text-anchor="end" textLength="9.34" lengthAdjust="spacingAndGlyphs" class="s">120</text>
<polyline points="85.40,300.10 97.20,300.51 109.00,302.17 120.80,305.07 132.60,309.21 144.40,309.21" fill="none" stroke="#C63A2B" stroke-width="1.85" stroke-linejoin="round"/>
<rect x="83.75" y="298.45" width="3.30" height="3.30" fill="#B5322A"/>
<rect x="95.55" y="298.86" width="3.30" height="3.30" fill="#B5322A"/>
<rect x="107.35" y="300.52" width="3.30" height="3.30" fill="#B5322A"/>
<rect x="119.15" y="303.42" width="3.30" height="3.30" fill="#B5322A"/>
<rect x="130.95" y="307.56" width="3.30" height="3.30" fill="#B5322A"/>
<rect x="142.75" y="307.56" width="3.30" height="3.30" fill="#B5322A"/>
<polyline points="85.40,300.10 97.20,300.10 109.00,299.69 120.80,300.51 132.60,300.10 144.40,300.10" fill="none" stroke="#44ABD2" stroke-width="1.85" stroke-linejoin="round"/>
<rect x="83.75" y="298.45" width="3.30" height="3.30" fill="#3A94BC"/>
<rect x="95.55" y="298.45" width="3.30" height="3.30" fill="#3A94BC"/>
<rect x="107.35" y="298.04" width="3.30" height="3.30" fill="#3A94BC"/>
<rect x="119.15" y="298.86" width="3.30" height="3.30" fill="#3A94BC"/>
<rect x="130.95" y="298.45" width="3.30" height="3.30" fill="#3A94BC"/>
<rect x="142.75" y="298.45" width="3.30" height="3.30" fill="#3A94BC"/>
<line x1="120.80" y1="303.41" x2="120.80" y2="306.72" stroke="#111" stroke-width="0.8" stroke-linecap="butt"/>
<rect x="119.40" y="302.61" width="2.80" height="1.60" fill="#111"/>
<rect x="119.40" y="305.92" width="2.80" height="1.60" fill="#111"/>
<line x1="132.60" y1="307.55" x2="132.60" y2="310.86" stroke="#111" stroke-width="0.8" stroke-linecap="butt"/>
<rect x="131.20" y="306.75" width="2.80" height="1.60" fill="#111"/>
<rect x="131.20" y="310.06" width="2.80" height="1.60" fill="#111"/>
<text x="85.70" y="350.50" font-size="5.88" text-anchor="middle" textLength="3.11" lengthAdjust="spacingAndGlyphs" class="s">2</text>
<text x="97.50" y="350.50" font-size="5.88" text-anchor="middle" textLength="3.11" lengthAdjust="spacingAndGlyphs" class="s">4</text>
<text x="109.30" y="350.50" font-size="5.88" text-anchor="middle" textLength="3.11" lengthAdjust="spacingAndGlyphs" class="s">6</text>
<text x="121.10" y="350.50" font-size="5.88" text-anchor="middle" textLength="3.11" lengthAdjust="spacingAndGlyphs" class="s">8</text>
<text x="132.90" y="350.50" font-size="5.88" text-anchor="middle" textLength="6.23" lengthAdjust="spacingAndGlyphs" class="s">10</text>
<text x="144.70" y="350.50" font-size="5.88" text-anchor="middle" textLength="6.23" lengthAdjust="spacingAndGlyphs" class="s">12</text>
<text x="114.50" y="361.90" font-size="8.47" text-anchor="middle" textLength="32.30" lengthAdjust="spacingAndGlyphs">Days after</text>
<text x="115.00" y="372.10" font-size="8.47" text-anchor="middle" textLength="65.00" lengthAdjust="spacingAndGlyphs">shRNA transduction</text>
<text x="114.60" y="283.20" font-size="9.02" text-anchor="middle" textLength="24.61" lengthAdjust="spacingAndGlyphs">Jeko-1</text>
<line x1="184.40" y1="288.00" x2="184.40" y2="342.15" stroke="#111" stroke-width="1.3" stroke-linecap="butt"/>
<line x1="180.70" y1="341.50" x2="254.40" y2="341.50" stroke="#111" stroke-width="1.3" stroke-linecap="butt"/>
<line x1="180.70" y1="341.50" x2="184.40" y2="341.50" stroke="#111" stroke-width="1.1" stroke-linecap="butt"/>
<text x="177.20" y="343.80" font-size="6.05" text-anchor="end" textLength="3.11" lengthAdjust="spacingAndGlyphs" class="s">0</text>
<line x1="180.70" y1="333.22" x2="184.40" y2="333.22" stroke="#111" stroke-width="1.1" stroke-linecap="butt"/>
<text x="177.20" y="335.52" font-size="6.05" text-anchor="end" textLength="6.23" lengthAdjust="spacingAndGlyphs" class="s">20</text>
<line x1="180.70" y1="324.94" x2="184.40" y2="324.94" stroke="#111" stroke-width="1.1" stroke-linecap="butt"/>
<text x="177.20" y="327.24" font-size="6.05" text-anchor="end" textLength="6.23" lengthAdjust="spacingAndGlyphs" class="s">40</text>
<line x1="180.70" y1="316.66" x2="184.40" y2="316.66" stroke="#111" stroke-width="1.1" stroke-linecap="butt"/>
<text x="177.20" y="318.96" font-size="6.05" text-anchor="end" textLength="6.23" lengthAdjust="spacingAndGlyphs" class="s">60</text>
<line x1="180.70" y1="308.38" x2="184.40" y2="308.38" stroke="#111" stroke-width="1.1" stroke-linecap="butt"/>
<text x="177.20" y="310.68" font-size="6.05" text-anchor="end" textLength="6.23" lengthAdjust="spacingAndGlyphs" class="s">80</text>
<line x1="180.70" y1="300.10" x2="184.40" y2="300.10" stroke="#111" stroke-width="1.1" stroke-linecap="butt"/>
<text x="177.20" y="302.40" font-size="6.05" text-anchor="end" textLength="9.34" lengthAdjust="spacingAndGlyphs" class="s">100</text>
<line x1="180.70" y1="291.82" x2="184.40" y2="291.82" stroke="#111" stroke-width="1.1" stroke-linecap="butt"/>
<text x="177.20" y="294.12" font-size="6.05" text-anchor="end" textLength="9.34" lengthAdjust="spacingAndGlyphs" class="s">120</text>
<polyline points="189.80,300.10 201.60,305.90 213.40,308.38 225.20,315.00 237.00,317.90 248.80,322.04" fill="none" stroke="#C63A2B" stroke-width="1.85" stroke-linejoin="round"/>
<rect x="188.15" y="298.45" width="3.30" height="3.30" fill="#B5322A"/>
<rect x="199.95" y="304.25" width="3.30" height="3.30" fill="#B5322A"/>
<rect x="211.75" y="306.73" width="3.30" height="3.30" fill="#B5322A"/>
<rect x="223.55" y="313.35" width="3.30" height="3.30" fill="#B5322A"/>
<rect x="235.35" y="316.25" width="3.30" height="3.30" fill="#B5322A"/>
<rect x="247.15" y="320.39" width="3.30" height="3.30" fill="#B5322A"/>
<polyline points="189.80,300.10 201.60,303.00 213.40,303.00 225.20,306.31 237.00,312.52 248.80,313.76" fill="none" stroke="#44ABD2" stroke-width="1.85" stroke-linejoin="round"/>
<rect x="188.15" y="298.45" width="3.30" height="3.30" fill="#3A94BC"/>
<rect x="199.95" y="301.35" width="3.30" height="3.30" fill="#3A94BC"/>
<rect x="211.75" y="301.35" width="3.30" height="3.30" fill="#3A94BC"/>
<rect x="223.55" y="304.66" width="3.30" height="3.30" fill="#3A94BC"/>
<rect x="235.35" y="310.87" width="3.30" height="3.30" fill="#3A94BC"/>
<rect x="247.15" y="312.11" width="3.30" height="3.30" fill="#3A94BC"/>
<line x1="201.60" y1="300.93" x2="201.60" y2="305.07" stroke="#111" stroke-width="0.8" stroke-linecap="butt"/>
<rect x="200.20" y="300.13" width="2.80" height="1.60" fill="#111"/>
<rect x="200.20" y="304.27" width="2.80" height="1.60" fill="#111"/>
<line x1="213.40" y1="300.10" x2="213.40" y2="305.90" stroke="#111" stroke-width="0.8" stroke-linecap="butt"/>
<rect x="212.00" y="299.30" width="2.80" height="1.60" fill="#111"/>
<rect x="212.00" y="305.10" width="2.80" height="1.60" fill="#111"/>
<line x1="237.00" y1="311.69" x2="237.00" y2="324.11" stroke="#111" stroke-width="0.8" stroke-linecap="butt"/>
<rect x="235.60" y="310.89" width="2.80" height="1.60" fill="#111"/>
<rect x="235.60" y="323.31" width="2.80" height="1.60" fill="#111"/>
<line x1="248.80" y1="308.38" x2="248.80" y2="322.87" stroke="#111" stroke-width="0.8" stroke-linecap="butt"/>
<rect x="247.40" y="307.58" width="2.80" height="1.60" fill="#111"/>
<rect x="247.40" y="322.07" width="2.80" height="1.60" fill="#111"/>
<text x="190.10" y="350.50" font-size="5.88" text-anchor="middle" textLength="3.11" lengthAdjust="spacingAndGlyphs" class="s">2</text>
<text x="201.90" y="350.50" font-size="5.88" text-anchor="middle" textLength="3.11" lengthAdjust="spacingAndGlyphs" class="s">4</text>
<text x="213.70" y="350.50" font-size="5.88" text-anchor="middle" textLength="3.11" lengthAdjust="spacingAndGlyphs" class="s">6</text>
<text x="225.50" y="350.50" font-size="5.88" text-anchor="middle" textLength="3.11" lengthAdjust="spacingAndGlyphs" class="s">8</text>
<text x="237.30" y="350.50" font-size="5.88" text-anchor="middle" textLength="6.23" lengthAdjust="spacingAndGlyphs" class="s">10</text>
<text x="249.10" y="350.50" font-size="5.88" text-anchor="middle" textLength="6.23" lengthAdjust="spacingAndGlyphs" class="s">12</text>
<text x="218.90" y="361.90" font-size="8.47" text-anchor="middle" textLength="32.30" lengthAdjust="spacingAndGlyphs">Days after</text>
<text x="219.40" y="372.10" font-size="8.47" text-anchor="middle" textLength="65.00" lengthAdjust="spacingAndGlyphs">shRNA transduction</text>
<text x="219.20" y="283.20" font-size="9.02" text-anchor="middle" textLength="21.87" lengthAdjust="spacingAndGlyphs">Rec-1</text>
<line x1="288.80" y1="288.00" x2="288.80" y2="342.15" stroke="#111" stroke-width="1.3" stroke-linecap="butt"/>
<line x1="285.10" y1="341.50" x2="358.80" y2="341.50" stroke="#111" stroke-width="1.3" stroke-linecap="butt"/>
<line x1="285.10" y1="341.50" x2="288.80" y2="341.50" stroke="#111" stroke-width="1.1" stroke-linecap="butt"/>
<text x="281.60" y="343.80" font-size="6.05" text-anchor="end" textLength="3.11" lengthAdjust="spacingAndGlyphs" class="s">0</text>
<line x1="285.10" y1="333.22" x2="288.80" y2="333.22" stroke="#111" stroke-width="1.1" stroke-linecap="butt"/>
<text x="281.60" y="335.52" font-size="6.05" text-anchor="end" textLength="6.23" lengthAdjust="spacingAndGlyphs" class="s">20</text>
<line x1="285.10" y1="324.94" x2="288.80" y2="324.94" stroke="#111" stroke-width="1.1" stroke-linecap="butt"/>
<text x="281.60" y="327.24" font-size="6.05" text-anchor="end" textLength="6.23" lengthAdjust="spacingAndGlyphs" class="s">40</text>
<line x1="285.10" y1="316.66" x2="288.80" y2="316.66" stroke="#111" stroke-width="1.1" stroke-linecap="butt"/>
<text x="281.60" y="318.96" font-size="6.05" text-anchor="end" textLength="6.23" lengthAdjust="spacingAndGlyphs" class="s">60</text>
<line x1="285.10" y1="308.38" x2="288.80" y2="308.38" stroke="#111" stroke-width="1.1" stroke-linecap="butt"/>
<text x="281.60" y="310.68" font-size="6.05" text-anchor="end" textLength="6.23" lengthAdjust="spacingAndGlyphs" class="s">80</text>
<line x1="285.10" y1="300.10" x2="288.80" y2="300.10" stroke="#111" stroke-width="1.1" stroke-linecap="butt"/>
<text x="281.60" y="302.40" font-size="6.05" text-anchor="end" textLength="9.34" lengthAdjust="spacingAndGlyphs" class="s">100</text>
<line x1="285.10" y1="291.82" x2="288.80" y2="291.82" stroke="#111" stroke-width="1.1" stroke-linecap="butt"/>
<text x="281.60" y="294.12" font-size="6.05" text-anchor="end" textLength="9.34" lengthAdjust="spacingAndGlyphs" class="s">120</text>
<polyline points="294.20,300.10 306.00,306.31 317.80,310.45 329.60,317.49 341.40,322.04 353.20,327.84" fill="none" stroke="#C63A2B" stroke-width="1.85" stroke-linejoin="round"/>
<rect x="292.55" y="298.45" width="3.30" height="3.30" fill="#B5322A"/>
<rect x="304.35" y="304.66" width="3.30" height="3.30" fill="#B5322A"/>
<rect x="316.15" y="308.80" width="3.30" height="3.30" fill="#B5322A"/>
<rect x="327.95" y="315.84" width="3.30" height="3.30" fill="#B5322A"/>
<rect x="339.75" y="320.39" width="3.30" height="3.30" fill="#B5322A"/>
<rect x="351.55" y="326.19" width="3.30" height="3.30" fill="#B5322A"/>
<polyline points="294.20,300.10 306.00,302.17 317.80,305.48 329.60,309.62 341.40,313.35 353.20,320.39" fill="none" stroke="#44ABD2" stroke-width="1.85" stroke-linejoin="round"/>
<rect x="292.55" y="298.45" width="3.30" height="3.30" fill="#3A94BC"/>
<rect x="304.35" y="300.52" width="3.30" height="3.30" fill="#3A94BC"/>
<rect x="316.15" y="303.83" width="3.30" height="3.30" fill="#3A94BC"/>
<rect x="327.95" y="307.97" width="3.30" height="3.30" fill="#3A94BC"/>
<rect x="339.75" y="311.70" width="3.30" height="3.30" fill="#3A94BC"/>
<rect x="351.55" y="318.74" width="3.30" height="3.30" fill="#3A94BC"/>
<line x1="306.00" y1="300.93" x2="306.00" y2="310.04" stroke="#111" stroke-width="0.8" stroke-linecap="butt"/>
<rect x="304.60" y="300.13" width="2.80" height="1.60" fill="#111"/>
<rect x="304.60" y="309.24" width="2.80" height="1.60" fill="#111"/>
<line x1="317.80" y1="304.24" x2="317.80" y2="314.59" stroke="#111" stroke-width="0.8" stroke-linecap="butt"/>
<rect x="316.40" y="303.44" width="2.80" height="1.60" fill="#111"/>
<rect x="316.40" y="313.79" width="2.80" height="1.60" fill="#111"/>
<line x1="329.60" y1="306.72" x2="329.60" y2="319.97" stroke="#111" stroke-width="0.8" stroke-linecap="butt"/>
<rect x="328.20" y="305.92" width="2.80" height="1.60" fill="#111"/>
<rect x="328.20" y="319.17" width="2.80" height="1.60" fill="#111"/>
<line x1="353.20" y1="317.49" x2="353.20" y2="329.91" stroke="#111" stroke-width="0.8" stroke-linecap="butt"/>
<rect x="351.80" y="316.69" width="2.80" height="1.60" fill="#111"/>
<rect x="351.80" y="329.11" width="2.80" height="1.60" fill="#111"/>
<text x="294.50" y="350.50" font-size="5.88" text-anchor="middle" textLength="3.11" lengthAdjust="spacingAndGlyphs" class="s">2</text>
<text x="306.30" y="350.50" font-size="5.88" text-anchor="middle" textLength="3.11" lengthAdjust="spacingAndGlyphs" class="s">4</text>
<text x="318.10" y="350.50" font-size="5.88" text-anchor="middle" textLength="3.11" lengthAdjust="spacingAndGlyphs" class="s">6</text>
<text x="329.90" y="350.50" font-size="5.88" text-anchor="middle" textLength="3.11" lengthAdjust="spacingAndGlyphs" class="s">8</text>
<text x="341.70" y="350.50" font-size="5.88" text-anchor="middle" textLength="6.23" lengthAdjust="spacingAndGlyphs" class="s">10</text>
<text x="353.50" y="350.50" font-size="5.88" text-anchor="middle" textLength="6.23" lengthAdjust="spacingAndGlyphs" class="s">12</text>
<text x="323.30" y="361.90" font-size="8.47" text-anchor="middle" textLength="32.30" lengthAdjust="spacingAndGlyphs">Days after</text>
<text x="323.80" y="372.10" font-size="8.47" text-anchor="middle" textLength="65.00" lengthAdjust="spacingAndGlyphs">shRNA transduction</text>
<text x="323.80" y="283.20" font-size="9.02" text-anchor="middle" textLength="20.06" lengthAdjust="spacingAndGlyphs">SP53</text>
<text x="27.30" y="314.50" font-size="7.99" text-anchor="middle" textLength="41.53" lengthAdjust="spacingAndGlyphs" transform="rotate(-90 27.30 314.50)">Live shRNA-</text>
<text x="37.30" y="314.50" font-size="7.99" text-anchor="middle" textLength="53.47" lengthAdjust="spacingAndGlyphs" transform="rotate(-90 37.30 314.50)">transduced cells</text>
<text x="47.30" y="314.50" font-size="7.99" text-anchor="middle" textLength="37.43" lengthAdjust="spacingAndGlyphs" transform="rotate(-90 47.30 314.50)">(% of day 2</text>
<text x="58.10" y="314.50" font-size="7.99" text-anchor="middle" textLength="26.73" lengthAdjust="spacingAndGlyphs" transform="rotate(-90 58.10 314.50)">fraction)</text>
<rect x="366.20" y="314.40" width="5.00" height="5.00" fill="#3A94BC"/>
<rect x="366.20" y="332.20" width="5.00" height="5.00" fill="#B5322A"/>
<text class="s" x="375.00" y="314.40" font-size="5.80" text-anchor="start" textLength="29.65" lengthAdjust="spacingAndGlyphs" fill="#1a1a1a" xml:space="preserve"><tspan font-style="italic">MYC</tspan> cDNA</text>
<text class="s" x="375.00" y="321.50" font-size="5.80" text-anchor="start" textLength="50.99" lengthAdjust="spacingAndGlyphs" fill="#1a1a1a" xml:space="preserve">+ <tspan font-style="italic">MALT1</tspan> shRNA #1</text>
<text class="s" x="375.00" y="332.10" font-size="5.80" text-anchor="start" textLength="33.84" lengthAdjust="spacingAndGlyphs" fill="#1a1a1a" xml:space="preserve">Empty vector</text>
<text class="s" x="375.00" y="339.40" font-size="5.80" text-anchor="start" textLength="50.99" lengthAdjust="spacingAndGlyphs" fill="#1a1a1a" xml:space="preserve">+ <tspan font-style="italic">MALT1</tspan> shRNA #1</text>
<line x1="59.50" y1="409.60" x2="59.50" y2="470.65" stroke="#111" stroke-width="1.3" stroke-linecap="butt"/>
<line x1="55.80" y1="470.00" x2="122.50" y2="470.00" stroke="#111" stroke-width="1.3" stroke-linecap="butt"/>
<line x1="55.80" y1="470.00" x2="59.50" y2="470.00" stroke="#111" stroke-width="1.1" stroke-linecap="butt"/>
<text x="52.30" y="472.30" font-size="6.05" text-anchor="end" textLength="3.11" lengthAdjust="spacingAndGlyphs" class="s">0</text>
<line x1="55.80" y1="460.40" x2="59.50" y2="460.40" stroke="#111" stroke-width="1.1" stroke-linecap="butt"/>
<text x="52.30" y="462.70" font-size="6.05" text-anchor="end" textLength="6.23" lengthAdjust="spacingAndGlyphs" class="s">20</text>
<line x1="55.80" y1="450.80" x2="59.50" y2="450.80" stroke="#111" stroke-width="1.1" stroke-linecap="butt"/>
<text x="52.30" y="453.10" font-size="6.05" text-anchor="end" textLength="6.23" lengthAdjust="spacingAndGlyphs" class="s">40</text>
<line x1="55.80" y1="441.20" x2="59.50" y2="441.20" stroke="#111" stroke-width="1.1" stroke-linecap="butt"/>
<text x="52.30" y="443.50" font-size="6.05" text-anchor="end" textLength="6.23" lengthAdjust="spacingAndGlyphs" class="s">60</text>
<line x1="55.80" y1="431.60" x2="59.50" y2="431.60" stroke="#111" stroke-width="1.1" stroke-linecap="butt"/>
<text x="52.30" y="433.90" font-size="6.05" text-anchor="end" textLength="6.23" lengthAdjust="spacingAndGlyphs" class="s">80</text>
<line x1="55.80" y1="422.00" x2="59.50" y2="422.00" stroke="#111" stroke-width="1.1" stroke-linecap="butt"/>
<text x="52.30" y="424.30" font-size="6.05" text-anchor="end" textLength="9.34" lengthAdjust="spacingAndGlyphs" class="s">100</text>
<line x1="55.80" y1="412.40" x2="59.50" y2="412.40" stroke="#111" stroke-width="1.1" stroke-linecap="butt"/>
<text x="52.30" y="414.70" font-size="6.05" text-anchor="end" textLength="9.34" lengthAdjust="spacingAndGlyphs" class="s">120</text>
<polyline points="63.30,422.00 81.40,452.24 99.50,461.36 117.60,462.80" fill="none" stroke="#C63A2B" stroke-width="1.85" stroke-linejoin="round"/>
<rect x="61.80" y="420.50" width="3.00" height="3.00" fill="#B5322A"/>
<rect x="79.90" y="450.74" width="3.00" height="3.00" fill="#B5322A"/>
<rect x="98.00" y="459.86" width="3.00" height="3.00" fill="#B5322A"/>
<rect x="116.10" y="461.30" width="3.00" height="3.00" fill="#B5322A"/>
<polyline points="63.30,422.00 81.40,432.08 99.50,435.44 117.60,438.80" fill="none" stroke="#44ABD2" stroke-width="1.85" stroke-linejoin="round"/>
<rect x="61.80" y="420.50" width="3.00" height="3.00" fill="#3A94BC"/>
<rect x="79.90" y="430.58" width="3.00" height="3.00" fill="#3A94BC"/>
<rect x="98.00" y="433.94" width="3.00" height="3.00" fill="#3A94BC"/>
<rect x="116.10" y="437.30" width="3.00" height="3.00" fill="#3A94BC"/>
<line x1="81.40" y1="429.68" x2="81.40" y2="434.48" stroke="#111" stroke-width="0.8" stroke-linecap="butt"/>
<rect x="80.00" y="428.93" width="2.80" height="1.50" fill="#111"/>
<rect x="80.00" y="433.73" width="2.80" height="1.50" fill="#111"/>
<text x="63.30" y="478.70" font-size="5.88" text-anchor="middle" textLength="3.11" lengthAdjust="spacingAndGlyphs" class="s">0</text>
<text x="81.40" y="478.70" font-size="5.88" text-anchor="middle" textLength="10.90" lengthAdjust="spacingAndGlyphs" class="s">12.5</text>
<text x="99.50" y="478.70" font-size="5.88" text-anchor="middle" textLength="6.23" lengthAdjust="spacingAndGlyphs" class="s">25</text>
<text x="117.60" y="478.70" font-size="5.88" text-anchor="middle" textLength="6.23" lengthAdjust="spacingAndGlyphs" class="s">50</text>
<text x="91.10" y="491.20" font-size="8.56" text-anchor="middle" textLength="59.00" lengthAdjust="spacingAndGlyphs">z-VRPR-fmk [µM]</text>
<text x="90.80" y="410.20" font-size="9.07" text-anchor="middle" textLength="25.21" lengthAdjust="spacingAndGlyphs">Jeko-1</text>
<line x1="155.90" y1="409.60" x2="155.90" y2="470.65" stroke="#111" stroke-width="1.3" stroke-linecap="butt"/>
<line x1="152.20" y1="470.00" x2="218.90" y2="470.00" stroke="#111" stroke-width="1.3" stroke-linecap="butt"/>
<line x1="152.20" y1="470.00" x2="155.90" y2="470.00" stroke="#111" stroke-width="1.1" stroke-linecap="butt"/>
<text x="148.70" y="472.30" font-size="6.05" text-anchor="end" textLength="3.11" lengthAdjust="spacingAndGlyphs" class="s">0</text>
<line x1="152.20" y1="460.40" x2="155.90" y2="460.40" stroke="#111" stroke-width="1.1" stroke-linecap="butt"/>
<text x="148.70" y="462.70" font-size="6.05" text-anchor="end" textLength="6.23" lengthAdjust="spacingAndGlyphs" class="s">20</text>
<line x1="152.20" y1="450.80" x2="155.90" y2="450.80" stroke="#111" stroke-width="1.1" stroke-linecap="butt"/>
<text x="148.70" y="453.10" font-size="6.05" text-anchor="end" textLength="6.23" lengthAdjust="spacingAndGlyphs" class="s">40</text>
<line x1="152.20" y1="441.20" x2="155.90" y2="441.20" stroke="#111" stroke-width="1.1" stroke-linecap="butt"/>
<text x="148.70" y="443.50" font-size="6.05" text-anchor="end" textLength="6.23" lengthAdjust="spacingAndGlyphs" class="s">60</text>
<line x1="152.20" y1="431.60" x2="155.90" y2="431.60" stroke="#111" stroke-width="1.1" stroke-linecap="butt"/>
<text x="148.70" y="433.90" font-size="6.05" text-anchor="end" textLength="6.23" lengthAdjust="spacingAndGlyphs" class="s">80</text>
<line x1="152.20" y1="422.00" x2="155.90" y2="422.00" stroke="#111" stroke-width="1.1" stroke-linecap="butt"/>
<text x="148.70" y="424.30" font-size="6.05" text-anchor="end" textLength="9.34" lengthAdjust="spacingAndGlyphs" class="s">100</text>
<line x1="152.20" y1="412.40" x2="155.90" y2="412.40" stroke="#111" stroke-width="1.1" stroke-linecap="butt"/>
<text x="148.70" y="414.70" font-size="6.05" text-anchor="end" textLength="9.34" lengthAdjust="spacingAndGlyphs" class="s">120</text>
<polyline points="159.70,422.00 177.80,432.56 195.90,433.52 214.00,442.16" fill="none" stroke="#C63A2B" stroke-width="1.85" stroke-linejoin="round"/>
<rect x="158.20" y="420.50" width="3.00" height="3.00" fill="#B5322A"/>
<rect x="176.30" y="431.06" width="3.00" height="3.00" fill="#B5322A"/>
<rect x="194.40" y="432.02" width="3.00" height="3.00" fill="#B5322A"/>
<rect x="212.50" y="440.66" width="3.00" height="3.00" fill="#B5322A"/>
<polyline points="159.70,422.00 177.80,423.44 195.90,422.96 214.00,428.24" fill="none" stroke="#44ABD2" stroke-width="1.85" stroke-linejoin="round"/>
<rect x="158.20" y="420.50" width="3.00" height="3.00" fill="#3A94BC"/>
<rect x="176.30" y="421.94" width="3.00" height="3.00" fill="#3A94BC"/>
<rect x="194.40" y="421.46" width="3.00" height="3.00" fill="#3A94BC"/>
<rect x="212.50" y="426.74" width="3.00" height="3.00" fill="#3A94BC"/>
<line x1="177.80" y1="422.00" x2="177.80" y2="424.88" stroke="#111" stroke-width="0.8" stroke-linecap="butt"/>
<rect x="176.40" y="421.25" width="2.80" height="1.50" fill="#111"/>
<rect x="176.40" y="424.13" width="2.80" height="1.50" fill="#111"/>
<line x1="195.90" y1="421.52" x2="195.90" y2="424.40" stroke="#111" stroke-width="0.8" stroke-linecap="butt"/>
<rect x="194.50" y="420.77" width="2.80" height="1.50" fill="#111"/>
<rect x="194.50" y="423.65" width="2.80" height="1.50" fill="#111"/>
<text x="159.70" y="478.70" font-size="5.88" text-anchor="middle" textLength="3.11" lengthAdjust="spacingAndGlyphs" class="s">0</text>
<text x="177.80" y="478.70" font-size="5.88" text-anchor="middle" textLength="10.90" lengthAdjust="spacingAndGlyphs" class="s">12.5</text>
<text x="195.90" y="478.70" font-size="5.88" text-anchor="middle" textLength="6.23" lengthAdjust="spacingAndGlyphs" class="s">25</text>
<text x="214.00" y="478.70" font-size="5.88" text-anchor="middle" textLength="6.23" lengthAdjust="spacingAndGlyphs" class="s">50</text>
<text x="187.50" y="491.20" font-size="8.56" text-anchor="middle" textLength="59.00" lengthAdjust="spacingAndGlyphs">z-VRPR-fmk [µM]</text>
<text x="187.70" y="410.20" font-size="9.07" text-anchor="middle" textLength="22.41" lengthAdjust="spacingAndGlyphs">Rec-1</text>
<line x1="252.40" y1="409.60" x2="252.40" y2="470.65" stroke="#111" stroke-width="1.3" stroke-linecap="butt"/>
<line x1="248.70" y1="470.00" x2="315.40" y2="470.00" stroke="#111" stroke-width="1.3" stroke-linecap="butt"/>
<line x1="248.70" y1="470.00" x2="252.40" y2="470.00" stroke="#111" stroke-width="1.1" stroke-linecap="butt"/>
<text x="245.20" y="472.30" font-size="6.05" text-anchor="end" textLength="3.11" lengthAdjust="spacingAndGlyphs" class="s">0</text>
<line x1="248.70" y1="460.40" x2="252.40" y2="460.40" stroke="#111" stroke-width="1.1" stroke-linecap="butt"/>
<text x="245.20" y="462.70" font-size="6.05" text-anchor="end" textLength="6.23" lengthAdjust="spacingAndGlyphs" class="s">20</text>
<line x1="248.70" y1="450.80" x2="252.40" y2="450.80" stroke="#111" stroke-width="1.1" stroke-linecap="butt"/>
<text x="245.20" y="453.10" font-size="6.05" text-anchor="end" textLength="6.23" lengthAdjust="spacingAndGlyphs" class="s">40</text>
<line x1="248.70" y1="441.20" x2="252.40" y2="441.20" stroke="#111" stroke-width="1.1" stroke-linecap="butt"/>
<text x="245.20" y="443.50" font-size="6.05" text-anchor="end" textLength="6.23" lengthAdjust="spacingAndGlyphs" class="s">60</text>
<line x1="248.70" y1="431.60" x2="252.40" y2="431.60" stroke="#111" stroke-width="1.1" stroke-linecap="butt"/>
<text x="245.20" y="433.90" font-size="6.05" text-anchor="end" textLength="6.23" lengthAdjust="spacingAndGlyphs" class="s">80</text>
<line x1="248.70" y1="422.00" x2="252.40" y2="422.00" stroke="#111" stroke-width="1.1" stroke-linecap="butt"/>
<text x="245.20" y="424.30" font-size="6.05" text-anchor="end" textLength="9.34" lengthAdjust="spacingAndGlyphs" class="s">100</text>
<line x1="248.70" y1="412.40" x2="252.40" y2="412.40" stroke="#111" stroke-width="1.1" stroke-linecap="butt"/>
<text x="245.20" y="414.70" font-size="6.05" text-anchor="end" textLength="9.34" lengthAdjust="spacingAndGlyphs" class="s">120</text>
<polyline points="256.20,422.00 274.30,446.48 292.40,446.00 310.50,453.68" fill="none" stroke="#C63A2B" stroke-width="1.85" stroke-linejoin="round"/>
<rect x="254.70" y="420.50" width="3.00" height="3.00" fill="#B5322A"/>
<rect x="272.80" y="444.98" width="3.00" height="3.00" fill="#B5322A"/>
<rect x="290.90" y="444.50" width="3.00" height="3.00" fill="#B5322A"/>
<rect x="309.00" y="452.18" width="3.00" height="3.00" fill="#B5322A"/>
<polyline points="256.20,422.00 274.30,427.28 292.40,430.16 310.50,431.12" fill="none" stroke="#44ABD2" stroke-width="1.85" stroke-linejoin="round"/>
<rect x="254.70" y="420.50" width="3.00" height="3.00" fill="#3A94BC"/>
<rect x="272.80" y="425.78" width="3.00" height="3.00" fill="#3A94BC"/>
<rect x="290.90" y="428.66" width="3.00" height="3.00" fill="#3A94BC"/>
<rect x="309.00" y="429.62" width="3.00" height="3.00" fill="#3A94BC"/>
<text x="256.20" y="478.70" font-size="5.88" text-anchor="middle" textLength="3.11" lengthAdjust="spacingAndGlyphs" class="s">0</text>
<text x="274.30" y="478.70" font-size="5.88" text-anchor="middle" textLength="10.90" lengthAdjust="spacingAndGlyphs" class="s">12.5</text>
<text x="292.40" y="478.70" font-size="5.88" text-anchor="middle" textLength="6.23" lengthAdjust="spacingAndGlyphs" class="s">25</text>
<text x="310.50" y="478.70" font-size="5.88" text-anchor="middle" textLength="6.23" lengthAdjust="spacingAndGlyphs" class="s">50</text>
<text x="284.00" y="491.20" font-size="8.56" text-anchor="middle" textLength="59.00" lengthAdjust="spacingAndGlyphs">z-VRPR-fmk [µM]</text>
<text x="284.60" y="410.20" font-size="9.07" text-anchor="middle" textLength="20.55" lengthAdjust="spacingAndGlyphs">SP53</text>
<line x1="348.90" y1="409.60" x2="348.90" y2="470.65" stroke="#111" stroke-width="1.3" stroke-linecap="butt"/>
<line x1="345.20" y1="470.00" x2="411.90" y2="470.00" stroke="#111" stroke-width="1.3" stroke-linecap="butt"/>
<line x1="345.20" y1="470.00" x2="348.90" y2="470.00" stroke="#111" stroke-width="1.1" stroke-linecap="butt"/>
<text x="341.70" y="472.30" font-size="6.05" text-anchor="end" textLength="3.11" lengthAdjust="spacingAndGlyphs" class="s">0</text>
<line x1="345.20" y1="460.40" x2="348.90" y2="460.40" stroke="#111" stroke-width="1.1" stroke-linecap="butt"/>
<text x="341.70" y="462.70" font-size="6.05" text-anchor="end" textLength="6.23" lengthAdjust="spacingAndGlyphs" class="s">20</text>
<line x1="345.20" y1="450.80" x2="348.90" y2="450.80" stroke="#111" stroke-width="1.1" stroke-linecap="butt"/>
<text x="341.70" y="453.10" font-size="6.05" text-anchor="end" textLength="6.23" lengthAdjust="spacingAndGlyphs" class="s">40</text>
<line x1="345.20" y1="441.20" x2="348.90" y2="441.20" stroke="#111" stroke-width="1.1" stroke-linecap="butt"/>
<text x="341.70" y="443.50" font-size="6.05" text-anchor="end" textLength="6.23" lengthAdjust="spacingAndGlyphs" class="s">60</text>
<line x1="345.20" y1="431.60" x2="348.90" y2="431.60" stroke="#111" stroke-width="1.1" stroke-linecap="butt"/>
<text x="341.70" y="433.90" font-size="6.05" text-anchor="end" textLength="6.23" lengthAdjust="spacingAndGlyphs" class="s">80</text>
<line x1="345.20" y1="422.00" x2="348.90" y2="422.00" stroke="#111" stroke-width="1.1" stroke-linecap="butt"/>
<text x="341.70" y="424.30" font-size="6.05" text-anchor="end" textLength="9.34" lengthAdjust="spacingAndGlyphs" class="s">100</text>
<line x1="345.20" y1="412.40" x2="348.90" y2="412.40" stroke="#111" stroke-width="1.1" stroke-linecap="butt"/>
<text x="341.70" y="414.70" font-size="6.05" text-anchor="end" textLength="9.34" lengthAdjust="spacingAndGlyphs" class="s">120</text>
<polyline points="352.70,422.00 370.80,442.16 388.90,445.52 407.00,450.80" fill="none" stroke="#C63A2B" stroke-width="1.85" stroke-linejoin="round"/>
<rect x="351.20" y="420.50" width="3.00" height="3.00" fill="#B5322A"/>
<rect x="369.30" y="440.66" width="3.00" height="3.00" fill="#B5322A"/>
<rect x="387.40" y="444.02" width="3.00" height="3.00" fill="#B5322A"/>
<rect x="405.50" y="449.30" width="3.00" height="3.00" fill="#B5322A"/>
<polyline points="352.70,422.00 370.80,431.60 388.90,436.88 407.00,440.72" fill="none" stroke="#44ABD2" stroke-width="1.85" stroke-linejoin="round"/>
<rect x="351.20" y="420.50" width="3.00" height="3.00" fill="#3A94BC"/>
<rect x="369.30" y="430.10" width="3.00" height="3.00" fill="#3A94BC"/>
<rect x="387.40" y="435.38" width="3.00" height="3.00" fill="#3A94BC"/>
<rect x="405.50" y="439.22" width="3.00" height="3.00" fill="#3A94BC"/>
<line x1="388.90" y1="443.60" x2="388.90" y2="446.48" stroke="#111" stroke-width="0.8" stroke-linecap="butt"/>
<rect x="387.50" y="442.85" width="2.80" height="1.50" fill="#111"/>
<rect x="387.50" y="445.73" width="2.80" height="1.50" fill="#111"/>
<text x="352.70" y="478.70" font-size="5.88" text-anchor="middle" textLength="3.11" lengthAdjust="spacingAndGlyphs" class="s">0</text>
<text x="370.80" y="478.70" font-size="5.88" text-anchor="middle" textLength="10.90" lengthAdjust="spacingAndGlyphs" class="s">12.5</text>
<text x="388.90" y="478.70" font-size="5.88" text-anchor="middle" textLength="6.23" lengthAdjust="spacingAndGlyphs" class="s">25</text>
<text x="407.00" y="478.70" font-size="5.88" text-anchor="middle" textLength="6.23" lengthAdjust="spacingAndGlyphs" class="s">50</text>
<text x="380.50" y="491.20" font-size="8.56" text-anchor="middle" textLength="59.00" lengthAdjust="spacingAndGlyphs">z-VRPR-fmk [µM]</text>
<text x="380.50" y="410.20" font-size="9.07" text-anchor="middle" textLength="18.21" lengthAdjust="spacingAndGlyphs">Mino</text>
<text x="27.30" y="440.00" font-size="7.99" text-anchor="middle" textLength="39.07" lengthAdjust="spacingAndGlyphs" transform="rotate(-90 27.30 440.00)">Cell viability</text>
<text x="37.30" y="440.00" font-size="7.99" text-anchor="middle" textLength="44.00" lengthAdjust="spacingAndGlyphs" transform="rotate(-90 37.30 440.00)">(% of control)</text>
<rect x="419.20" y="440.80" width="3.80" height="3.80" fill="#3A94BC"/>
<rect x="419.20" y="450.80" width="3.80" height="3.80" fill="#B5322A"/>
<text class="s" x="426.00" y="444.60" font-size="5.80" text-anchor="start" textLength="29.65" lengthAdjust="spacingAndGlyphs" fill="#1a1a1a" xml:space="preserve"><tspan font-style="italic">MYC</tspan> cDNA</text>
<text class="s" x="426.00" y="454.60" font-size="5.80" text-anchor="start" textLength="33.84" lengthAdjust="spacingAndGlyphs" fill="#1a1a1a" xml:space="preserve">Empty vector</text>
<line x1="58.80" y1="538.00" x2="58.80" y2="613.65" stroke="#111" stroke-width="1.3" stroke-linecap="butt"/>
<line x1="55.60" y1="613.00" x2="137.40" y2="613.00" stroke="#111" stroke-width="1.3" stroke-linecap="butt"/>
<line x1="55.10" y1="613.00" x2="58.80" y2="613.00" stroke="#111" stroke-width="1.1" stroke-linecap="butt"/>
<text x="51.60" y="615.30" font-size="5.83" text-anchor="end" textLength="3.00" lengthAdjust="spacingAndGlyphs" class="s">0</text>
<line x1="55.10" y1="602.20" x2="58.80" y2="602.20" stroke="#111" stroke-width="1.1" stroke-linecap="butt"/>
<text x="51.60" y="604.50" font-size="5.83" text-anchor="end" textLength="6.01" lengthAdjust="spacingAndGlyphs" class="s">20</text>
<line x1="55.10" y1="591.40" x2="58.80" y2="591.40" stroke="#111" stroke-width="1.1" stroke-linecap="butt"/>
<text x="51.60" y="593.70" font-size="5.83" text-anchor="end" textLength="6.01" lengthAdjust="spacingAndGlyphs" class="s">40</text>
<line x1="55.10" y1="580.60" x2="58.80" y2="580.60" stroke="#111" stroke-width="1.1" stroke-linecap="butt"/>
<text x="51.60" y="582.90" font-size="5.83" text-anchor="end" textLength="6.01" lengthAdjust="spacingAndGlyphs" class="s">60</text>
<line x1="55.10" y1="569.80" x2="58.80" y2="569.80" stroke="#111" stroke-width="1.1" stroke-linecap="butt"/>
<text x="51.60" y="572.10" font-size="5.83" text-anchor="end" textLength="6.01" lengthAdjust="spacingAndGlyphs" class="s">80</text>
<line x1="55.10" y1="559.00" x2="58.80" y2="559.00" stroke="#111" stroke-width="1.1" stroke-linecap="butt"/>
<text x="51.60" y="561.30" font-size="5.83" text-anchor="end" textLength="9.01" lengthAdjust="spacingAndGlyphs" class="s">100</text>
<line x1="55.10" y1="548.20" x2="58.80" y2="548.20" stroke="#111" stroke-width="1.1" stroke-linecap="butt"/>
<text x="51.60" y="550.50" font-size="5.83" text-anchor="end" textLength="9.01" lengthAdjust="spacingAndGlyphs" class="s">120</text>
<line x1="58.20" y1="531.60" x2="138.10" y2="531.60" stroke="#111" stroke-width="1.2" stroke-linecap="butt"/>
<line x1="58.80" y1="531.00" x2="58.80" y2="535.80" stroke="#111" stroke-width="1.2" stroke-linecap="butt"/>
<line x1="137.50" y1="531.00" x2="137.50" y2="535.80" stroke="#111" stroke-width="1.2" stroke-linecap="butt"/>
<rect x="68.50" y="559.00" width="12.50" height="54.00" fill="#2A5593"/>
<rect x="96.20" y="611.11" width="12.30" height="1.89" fill="#7FA6D0"/>
<rect x="118.50" y="612.57" width="12.50" height="0.43" fill="#C5DDE8"/>
<line x1="74.75" y1="555.22" x2="74.75" y2="561.70" stroke="#111" stroke-width="0.9" stroke-linecap="butt"/>
<rect x="73.35" y="554.62" width="2.80" height="1.20" fill="#111"/>
<rect x="73.35" y="561.10" width="2.80" height="1.20" fill="#111"/>
<line x1="102.40" y1="609.22" x2="102.40" y2="612.46" stroke="#111" stroke-width="0.9" stroke-linecap="butt"/>
<rect x="101.00" y="608.62" width="2.80" height="1.20" fill="#111"/>
<rect x="101.00" y="611.86" width="2.80" height="1.20" fill="#111"/>
<line x1="125.40" y1="609.76" x2="125.40" y2="613.00" stroke="#111" stroke-width="0.9" stroke-linecap="butt"/>
<rect x="124.00" y="609.16" width="2.80" height="1.20" fill="#111"/>
<rect x="124.00" y="612.40" width="2.80" height="1.20" fill="#111"/>
<line x1="74.20" y1="545.50" x2="102.70" y2="545.50" stroke="#111" stroke-width="1.0" stroke-linecap="butt"/>
<line x1="74.20" y1="545.00" x2="74.20" y2="548.00" stroke="#111" stroke-width="1.0" stroke-linecap="butt"/>
<line x1="102.70" y1="545.00" x2="102.70" y2="548.00" stroke="#111" stroke-width="1.0" stroke-linecap="butt"/>
<rect x="85.15" y="540.15" width="1.70" height="1.70" fill="#222"/>
<rect x="87.95" y="540.15" width="1.70" height="1.70" fill="#222"/>
<rect x="90.75" y="540.15" width="1.70" height="1.70" fill="#222"/>
<line x1="74.20" y1="549.00" x2="125.80" y2="549.00" stroke="#111" stroke-width="1.0" stroke-linecap="butt"/>
<line x1="74.20" y1="548.50" x2="74.20" y2="551.50" stroke="#111" stroke-width="1.0" stroke-linecap="butt"/>
<line x1="125.80" y1="548.50" x2="125.80" y2="551.50" stroke="#111" stroke-width="1.0" stroke-linecap="butt"/>
<rect x="111.35" y="544.15" width="1.70" height="1.70" fill="#222"/>
<rect x="114.15" y="544.15" width="1.70" height="1.70" fill="#222"/>
<rect x="116.95" y="544.15" width="1.70" height="1.70" fill="#222"/>
<text x="98.00" y="528.40" font-size="8.40" text-anchor="middle" textLength="22.41" lengthAdjust="spacingAndGlyphs">Rec-1</text>
<line x1="167.50" y1="538.00" x2="167.50" y2="613.65" stroke="#111" stroke-width="1.3" stroke-linecap="butt"/>
<line x1="164.30" y1="613.00" x2="242.30" y2="613.00" stroke="#111" stroke-width="1.3" stroke-linecap="butt"/>
<line x1="163.80" y1="613.00" x2="167.50" y2="613.00" stroke="#111" stroke-width="1.1" stroke-linecap="butt"/>
<text x="160.30" y="615.30" font-size="5.83" text-anchor="end" textLength="3.00" lengthAdjust="spacingAndGlyphs" class="s">0</text>
<line x1="163.80" y1="602.20" x2="167.50" y2="602.20" stroke="#111" stroke-width="1.1" stroke-linecap="butt"/>
<text x="160.30" y="604.50" font-size="5.83" text-anchor="end" textLength="6.01" lengthAdjust="spacingAndGlyphs" class="s">20</text>
<line x1="163.80" y1="591.40" x2="167.50" y2="591.40" stroke="#111" stroke-width="1.1" stroke-linecap="butt"/>
<text x="160.30" y="593.70" font-size="5.83" text-anchor="end" textLength="6.01" lengthAdjust="spacingAndGlyphs" class="s">40</text>
<line x1="163.80" y1="580.60" x2="167.50" y2="580.60" stroke="#111" stroke-width="1.1" stroke-linecap="butt"/>
<text x="160.30" y="582.90" font-size="5.83" text-anchor="end" textLength="6.01" lengthAdjust="spacingAndGlyphs" class="s">60</text>
<line x1="163.80" y1="569.80" x2="167.50" y2="569.80" stroke="#111" stroke-width="1.1" stroke-linecap="butt"/>
<text x="160.30" y="572.10" font-size="5.83" text-anchor="end" textLength="6.01" lengthAdjust="spacingAndGlyphs" class="s">80</text>
<line x1="163.80" y1="559.00" x2="167.50" y2="559.00" stroke="#111" stroke-width="1.1" stroke-linecap="butt"/>
<text x="160.30" y="561.30" font-size="5.83" text-anchor="end" textLength="9.01" lengthAdjust="spacingAndGlyphs" class="s">100</text>
<line x1="163.80" y1="548.20" x2="167.50" y2="548.20" stroke="#111" stroke-width="1.1" stroke-linecap="butt"/>
<text x="160.30" y="550.50" font-size="5.83" text-anchor="end" textLength="9.01" lengthAdjust="spacingAndGlyphs" class="s">120</text>
<line x1="166.90" y1="531.60" x2="246.80" y2="531.60" stroke="#111" stroke-width="1.2" stroke-linecap="butt"/>
<line x1="167.50" y1="531.00" x2="167.50" y2="535.80" stroke="#111" stroke-width="1.2" stroke-linecap="butt"/>
<line x1="246.20" y1="531.00" x2="246.20" y2="535.80" stroke="#111" stroke-width="1.2" stroke-linecap="butt"/>
<rect x="177.30" y="559.54" width="12.50" height="53.46" fill="#2A5593"/>
<rect x="205.20" y="603.82" width="12.50" height="9.18" fill="#4F7FBF"/>
<rect x="227.50" y="599.50" width="12.50" height="13.50" fill="#A9D3E3"/>
<line x1="183.50" y1="555.76" x2="183.50" y2="562.78" stroke="#111" stroke-width="0.9" stroke-linecap="butt"/>
<rect x="182.10" y="555.16" width="2.80" height="1.20" fill="#111"/>
<rect x="182.10" y="562.18" width="2.80" height="1.20" fill="#111"/>
<line x1="211.50" y1="601.66" x2="211.50" y2="605.98" stroke="#111" stroke-width="0.9" stroke-linecap="butt"/>
<rect x="210.10" y="601.06" width="2.80" height="1.20" fill="#111"/>
<rect x="210.10" y="605.38" width="2.80" height="1.20" fill="#111"/>
<line x1="233.70" y1="597.88" x2="233.70" y2="601.66" stroke="#111" stroke-width="0.9" stroke-linecap="butt"/>
<rect x="232.30" y="597.28" width="2.80" height="1.20" fill="#111"/>
<rect x="232.30" y="601.06" width="2.80" height="1.20" fill="#111"/>
<line x1="183.00" y1="545.20" x2="211.50" y2="545.20" stroke="#111" stroke-width="1.0" stroke-linecap="butt"/>
<line x1="183.00" y1="544.70" x2="183.00" y2="547.70" stroke="#111" stroke-width="1.0" stroke-linecap="butt"/>
<line x1="211.50" y1="544.70" x2="211.50" y2="547.70" stroke="#111" stroke-width="1.0" stroke-linecap="butt"/>
<rect x="195.75" y="540.15" width="1.70" height="1.70" fill="#222"/>
<rect x="198.55" y="540.15" width="1.70" height="1.70" fill="#222"/>
<line x1="183.00" y1="549.10" x2="234.60" y2="549.10" stroke="#111" stroke-width="1.0" stroke-linecap="butt"/>
<line x1="183.00" y1="548.60" x2="183.00" y2="551.60" stroke="#111" stroke-width="1.0" stroke-linecap="butt"/>
<line x1="234.60" y1="548.60" x2="234.60" y2="551.60" stroke="#111" stroke-width="1.0" stroke-linecap="butt"/>
<rect x="221.75" y="543.95" width="1.70" height="1.70" fill="#222"/>
<rect x="224.55" y="543.95" width="1.70" height="1.70" fill="#222"/>
<text x="207.00" y="528.40" font-size="8.40" text-anchor="middle" textLength="20.55" lengthAdjust="spacingAndGlyphs">SP53</text>
<text x="52.00" y="622.20" font-size="6.00" text-anchor="end" textLength="20.67" lengthAdjust="spacingAndGlyphs" font-style="italic" class="s">shRNA:</text>
<text x="74.50" y="622.20" font-size="6.00" text-anchor="middle" textLength="19.34" lengthAdjust="spacingAndGlyphs" class="s">Control</text>
<text x="183.60" y="622.20" font-size="6.00" text-anchor="middle" textLength="19.34" lengthAdjust="spacingAndGlyphs" class="s">Control</text>
<text x="103.00" y="622.00" font-size="6.00" text-anchor="middle" textLength="13.33" lengthAdjust="spacingAndGlyphs" font-style="italic" class="s">MYC</text>
<text x="103.00" y="628.60" font-size="6.00" text-anchor="middle" textLength="6.67" lengthAdjust="spacingAndGlyphs" class="s">#1</text>
<text x="125.70" y="622.00" font-size="6.00" text-anchor="middle" textLength="13.33" lengthAdjust="spacingAndGlyphs" font-style="italic" class="s">MYC</text>
<text x="125.70" y="628.60" font-size="6.00" text-anchor="middle" textLength="6.67" lengthAdjust="spacingAndGlyphs" class="s">#2</text>
<text x="211.30" y="622.00" font-size="6.00" text-anchor="middle" textLength="13.33" lengthAdjust="spacingAndGlyphs" font-style="italic" class="s">MYC</text>
<text x="211.30" y="628.60" font-size="6.00" text-anchor="middle" textLength="6.67" lengthAdjust="spacingAndGlyphs" class="s">#1</text>
<text x="233.30" y="622.00" font-size="6.00" text-anchor="middle" textLength="13.33" lengthAdjust="spacingAndGlyphs" font-style="italic" class="s">MYC</text>
<text x="233.30" y="628.60" font-size="6.00" text-anchor="middle" textLength="6.67" lengthAdjust="spacingAndGlyphs" class="s">#2</text>
<text x="26.80" y="575.50" font-size="7.99" text-anchor="middle" textLength="39.49" lengthAdjust="spacingAndGlyphs" transform="rotate(-90 26.80 575.50)">Proliferation</text>
<text x="37.10" y="576.00" font-size="7.99" text-anchor="middle" textLength="69.50" lengthAdjust="spacingAndGlyphs" transform="rotate(-90 37.10 576.00)">(% of control shRNA)</text>
<line x1="303.60" y1="520.40" x2="303.60" y2="624.10" stroke="#111" stroke-width="1.3" stroke-linecap="butt"/>
<line x1="300.50" y1="623.50" x2="368.50" y2="623.50" stroke="#111" stroke-width="1.3" stroke-linecap="butt"/>
<line x1="299.60" y1="623.50" x2="303.60" y2="623.50" stroke="#111" stroke-width="1.1" stroke-linecap="butt"/>
<text x="297.10" y="625.60" font-size="5.80" text-anchor="end" textLength="3.23" lengthAdjust="spacingAndGlyphs" class="s">0</text>
<line x1="299.60" y1="603.90" x2="303.60" y2="603.90" stroke="#111" stroke-width="1.1" stroke-linecap="butt"/>
<text x="297.10" y="606.00" font-size="5.80" text-anchor="end" textLength="6.45" lengthAdjust="spacingAndGlyphs" class="s">20</text>
<line x1="299.60" y1="584.30" x2="303.60" y2="584.30" stroke="#111" stroke-width="1.1" stroke-linecap="butt"/>
<text x="297.10" y="586.40" font-size="5.80" text-anchor="end" textLength="6.45" lengthAdjust="spacingAndGlyphs" class="s">40</text>
<line x1="299.60" y1="564.70" x2="303.60" y2="564.70" stroke="#111" stroke-width="1.1" stroke-linecap="butt"/>
<text x="297.10" y="566.80" font-size="5.80" text-anchor="end" textLength="6.45" lengthAdjust="spacingAndGlyphs" class="s">60</text>
<line x1="299.60" y1="545.10" x2="303.60" y2="545.10" stroke="#111" stroke-width="1.1" stroke-linecap="butt"/>
<text x="297.10" y="547.20" font-size="5.80" text-anchor="end" textLength="6.45" lengthAdjust="spacingAndGlyphs" class="s">80</text>
<line x1="299.60" y1="525.50" x2="303.60" y2="525.50" stroke="#111" stroke-width="1.1" stroke-linecap="butt"/>
<text x="297.10" y="527.60" font-size="5.80" text-anchor="end" textLength="9.68" lengthAdjust="spacingAndGlyphs" class="s">100</text>
<rect x="307.20" y="603.80" width="16.60" height="19.70" fill="#6BBDBD"/>
<rect x="327.30" y="588.00" width="16.50" height="35.50" fill="#6666B4"/>
<rect x="347.20" y="556.20" width="16.60" height="67.30" fill="#3A2C8A"/>
<path d="M314.4,601 L314.4,529.7 L357.2,529.7 L357.2,553.5" fill="none" stroke="#111" stroke-width="1.1" stroke-linejoin="miter"/>
<path d="M337.3,585 L337.3,538.5 L354.2,538.5 L354.2,553.5" fill="none" stroke="#111" stroke-width="1.1" stroke-linejoin="miter"/>
<path d="M316.9,601 L316.9,577.8 L334.2,577.8 L334.2,585" fill="none" stroke="#111" stroke-width="1.1" stroke-linejoin="miter"/>
<polygon points="313.60,600.20 317.60,600.20 315.60,603.20" fill="#111"/>
<polygon points="333.70,584.40 337.70,584.40 335.70,587.40" fill="#111"/>
<polygon points="353.70,552.60 357.70,552.60 355.70,555.60" fill="#111"/>
<text x="333.80" y="527.30" font-size="3.2" text-anchor="middle" fill="#444" style="stroke:none">P = 4.4x10<tspan font-size="2.2" dy="-1.2">-18</tspan></text>
<text x="344.60" y="536.20" font-size="3.2" text-anchor="middle" fill="#444" style="stroke:none">P = 1.4x10<tspan font-size="2.2" dy="-1.2">-8</tspan></text>
<text x="325.40" y="574.80" font-size="3.2" text-anchor="middle" fill="#444" style="stroke:none">P = 1.1x10<tspan font-size="2.2" dy="-1.2">-5</tspan></text>
<text x="281.80" y="572.00" font-size="8.40" text-anchor="middle" textLength="76.00" lengthAdjust="spacingAndGlyphs" transform="rotate(-90 281.80 572.00)">Mean Ki-67 expression</text>
<rect x="374.70" y="561.90" width="5.20" height="5.20" fill="#6BBDBD"/>
<text x="382.70" y="566.60" font-size="5.96" text-anchor="start" textLength="80.33" lengthAdjust="spacingAndGlyphs" class="s">MYC negative MCLs (n = 104)</text>
<rect x="374.70" y="570.90" width="5.20" height="5.20" fill="#6666B4"/>
<text x="382.70" y="575.60" font-size="5.96" text-anchor="start" textLength="109.14" lengthAdjust="spacingAndGlyphs" class="s">MYC intermediate positive MCLs (n = 75)</text>
<rect x="374.70" y="579.90" width="5.20" height="5.20" fill="#3A2C8A"/>
<text x="382.70" y="584.60" font-size="5.96" text-anchor="start" textLength="74.69" lengthAdjust="spacingAndGlyphs" class="s">MYC positive MCLs (n = 55)</text>
<line x1="50.00" y1="658.00" x2="50.00" y2="754.35" stroke="#111" stroke-width="1.3" stroke-linecap="butt"/>
<line x1="46.50" y1="753.70" x2="188.80" y2="753.70" stroke="#111" stroke-width="1.3" stroke-linecap="butt"/>
<line x1="46.30" y1="753.70" x2="50.00" y2="753.70" stroke="#111" stroke-width="1.1" stroke-linecap="butt"/>
<text x="42.80" y="756.00" font-size="6.05" text-anchor="end" textLength="3.11" lengthAdjust="spacingAndGlyphs" class="s">0</text>
<line x1="46.30" y1="738.22" x2="50.00" y2="738.22" stroke="#111" stroke-width="1.1" stroke-linecap="butt"/>
<text x="42.80" y="740.52" font-size="6.05" text-anchor="end" textLength="6.23" lengthAdjust="spacingAndGlyphs" class="s">20</text>
<line x1="46.30" y1="722.74" x2="50.00" y2="722.74" stroke="#111" stroke-width="1.1" stroke-linecap="butt"/>
<text x="42.80" y="725.04" font-size="6.05" text-anchor="end" textLength="6.23" lengthAdjust="spacingAndGlyphs" class="s">40</text>
<line x1="46.30" y1="707.26" x2="50.00" y2="707.26" stroke="#111" stroke-width="1.1" stroke-linecap="butt"/>
<text x="42.80" y="709.56" font-size="6.05" text-anchor="end" textLength="6.23" lengthAdjust="spacingAndGlyphs" class="s">60</text>
<line x1="46.30" y1="691.78" x2="50.00" y2="691.78" stroke="#111" stroke-width="1.1" stroke-linecap="butt"/>
<text x="42.80" y="694.08" font-size="6.05" text-anchor="end" textLength="6.23" lengthAdjust="spacingAndGlyphs" class="s">80</text>
<line x1="46.30" y1="676.30" x2="50.00" y2="676.30" stroke="#111" stroke-width="1.1" stroke-linecap="butt"/>
<text x="42.80" y="678.60" font-size="6.05" text-anchor="end" textLength="9.34" lengthAdjust="spacingAndGlyphs" class="s">100</text>
<line x1="46.30" y1="660.82" x2="50.00" y2="660.82" stroke="#111" stroke-width="1.1" stroke-linecap="butt"/>
<text x="42.80" y="663.12" font-size="6.05" text-anchor="end" textLength="9.34" lengthAdjust="spacingAndGlyphs" class="s">120</text>
<polyline points="54.40,676.30 80.00,700.29 105.60,713.45 131.20,729.71 156.80,735.90 182.40,743.64" fill="none" stroke="#35925F" stroke-width="1.7" stroke-linejoin="round"/>
<rect x="53.10" y="675.00" width="2.60" height="2.60" fill="#35925F"/>
<rect x="78.70" y="698.99" width="2.60" height="2.60" fill="#35925F"/>
<rect x="104.30" y="712.15" width="2.60" height="2.60" fill="#35925F"/>
<rect x="129.90" y="728.41" width="2.60" height="2.60" fill="#35925F"/>
<rect x="155.50" y="734.60" width="2.60" height="2.60" fill="#35925F"/>
<rect x="181.10" y="742.34" width="2.60" height="2.60" fill="#35925F"/>
<polyline points="54.40,676.30 80.00,696.42 105.60,701.07 131.20,711.13 156.80,717.32 182.40,723.51" fill="none" stroke="#26705A" stroke-width="1.7" stroke-linejoin="round"/>
<rect x="53.10" y="675.00" width="2.60" height="2.60" fill="#26705A"/>
<rect x="78.70" y="695.12" width="2.60" height="2.60" fill="#26705A"/>
<rect x="104.30" y="699.77" width="2.60" height="2.60" fill="#26705A"/>
<rect x="129.90" y="709.83" width="2.60" height="2.60" fill="#26705A"/>
<rect x="155.50" y="716.02" width="2.60" height="2.60" fill="#26705A"/>
<rect x="181.10" y="722.21" width="2.60" height="2.60" fill="#26705A"/>
<polyline points="54.40,676.30 80.00,693.33 105.60,700.29 131.20,701.07 156.80,705.71 182.40,709.97" fill="none" stroke="#3AA8B2" stroke-width="1.7" stroke-linejoin="round"/>
<rect x="53.10" y="675.00" width="2.60" height="2.60" fill="#3AA8B2"/>
<rect x="78.70" y="692.03" width="2.60" height="2.60" fill="#3AA8B2"/>
<rect x="104.30" y="698.99" width="2.60" height="2.60" fill="#3AA8B2"/>
<rect x="129.90" y="699.77" width="2.60" height="2.60" fill="#3AA8B2"/>
<rect x="155.50" y="704.41" width="2.60" height="2.60" fill="#3AA8B2"/>
<rect x="181.10" y="708.67" width="2.60" height="2.60" fill="#3AA8B2"/>
<polyline points="54.40,676.30 80.00,684.04 105.60,686.36 131.20,695.65 156.80,708.81 182.40,726.61" fill="none" stroke="#B0C860" stroke-width="1.7" stroke-linejoin="round"/>
<rect x="53.10" y="675.00" width="2.60" height="2.60" fill="#B0C860"/>
<rect x="78.70" y="682.74" width="2.60" height="2.60" fill="#B0C860"/>
<rect x="104.30" y="685.06" width="2.60" height="2.60" fill="#B0C860"/>
<rect x="129.90" y="694.35" width="2.60" height="2.60" fill="#B0C860"/>
<rect x="155.50" y="707.51" width="2.60" height="2.60" fill="#B0C860"/>
<rect x="181.10" y="725.31" width="2.60" height="2.60" fill="#B0C860"/>
<polyline points="54.40,676.30 80.00,683.27 105.60,684.04 131.20,687.91 156.80,689.46 182.40,690.23" fill="none" stroke="#111111" stroke-width="1.7" stroke-linejoin="round"/>
<circle cx="54.40" cy="676.30" r="1.7" fill="#111"/>
<circle cx="80.00" cy="683.27" r="1.7" fill="#111"/>
<circle cx="105.60" cy="684.04" r="1.7" fill="#111"/>
<circle cx="131.20" cy="687.91" r="1.7" fill="#111"/>
<circle cx="156.80" cy="689.46" r="1.7" fill="#111"/>
<circle cx="182.40" cy="690.23" r="1.7" fill="#111"/>
<line x1="80.00" y1="693.33" x2="80.00" y2="708.81" stroke="#111" stroke-width="0.9" stroke-linecap="butt"/>
<rect x="78.70" y="692.68" width="2.60" height="1.30" fill="#111"/>
<rect x="78.70" y="708.16" width="2.60" height="1.30" fill="#111"/>
<line x1="105.60" y1="709.58" x2="105.60" y2="717.32" stroke="#111" stroke-width="0.9" stroke-linecap="butt"/>
<rect x="104.30" y="708.93" width="2.60" height="1.30" fill="#111"/>
<rect x="104.30" y="716.67" width="2.60" height="1.30" fill="#111"/>
<line x1="131.20" y1="726.61" x2="131.20" y2="732.80" stroke="#111" stroke-width="0.9" stroke-linecap="butt"/>
<rect x="129.90" y="725.96" width="2.60" height="1.30" fill="#111"/>
<rect x="129.90" y="732.15" width="2.60" height="1.30" fill="#111"/>
<line x1="156.80" y1="732.80" x2="156.80" y2="738.99" stroke="#111" stroke-width="0.9" stroke-linecap="butt"/>
<rect x="155.50" y="732.15" width="2.60" height="1.30" fill="#111"/>
<rect x="155.50" y="738.34" width="2.60" height="1.30" fill="#111"/>
<line x1="182.40" y1="741.32" x2="182.40" y2="745.96" stroke="#111" stroke-width="0.9" stroke-linecap="butt"/>
<rect x="181.10" y="740.67" width="2.60" height="1.30" fill="#111"/>
<rect x="181.10" y="745.31" width="2.60" height="1.30" fill="#111"/>
<line x1="105.60" y1="679.40" x2="105.60" y2="693.33" stroke="#111" stroke-width="0.9" stroke-linecap="butt"/>
<rect x="104.30" y="678.75" width="2.60" height="1.30" fill="#111"/>
<rect x="104.30" y="692.68" width="2.60" height="1.30" fill="#111"/>
<line x1="131.20" y1="688.68" x2="131.20" y2="697.97" stroke="#111" stroke-width="0.9" stroke-linecap="butt"/>
<rect x="129.90" y="688.03" width="2.60" height="1.30" fill="#111"/>
<rect x="129.90" y="697.32" width="2.60" height="1.30" fill="#111"/>
<line x1="156.80" y1="704.16" x2="156.80" y2="713.45" stroke="#111" stroke-width="0.9" stroke-linecap="butt"/>
<rect x="155.50" y="703.51" width="2.60" height="1.30" fill="#111"/>
<rect x="155.50" y="712.80" width="2.60" height="1.30" fill="#111"/>
<line x1="182.40" y1="721.19" x2="182.40" y2="730.48" stroke="#111" stroke-width="0.9" stroke-linecap="butt"/>
<rect x="181.10" y="720.54" width="2.60" height="1.30" fill="#111"/>
<rect x="181.10" y="729.83" width="2.60" height="1.30" fill="#111"/>
<line x1="80.00" y1="680.17" x2="80.00" y2="686.36" stroke="#111" stroke-width="0.9" stroke-linecap="butt"/>
<rect x="78.70" y="679.52" width="2.60" height="1.30" fill="#111"/>
<rect x="78.70" y="685.71" width="2.60" height="1.30" fill="#111"/>
<line x1="105.60" y1="697.97" x2="105.60" y2="704.16" stroke="#111" stroke-width="0.9" stroke-linecap="butt"/>
<rect x="104.30" y="697.32" width="2.60" height="1.30" fill="#111"/>
<rect x="104.30" y="703.51" width="2.60" height="1.30" fill="#111"/>
<line x1="182.40" y1="721.19" x2="182.40" y2="725.84" stroke="#111" stroke-width="0.9" stroke-linecap="butt"/>
<rect x="181.10" y="720.54" width="2.60" height="1.30" fill="#111"/>
<rect x="181.10" y="725.19" width="2.60" height="1.30" fill="#111"/>
<line x1="156.80" y1="702.62" x2="156.80" y2="708.03" stroke="#111" stroke-width="0.9" stroke-linecap="butt"/>
<rect x="155.50" y="701.97" width="2.60" height="1.30" fill="#111"/>
<rect x="155.50" y="707.38" width="2.60" height="1.30" fill="#111"/>
<rect x="52.30" y="674.30" width="4.00" height="4.00" fill="#111"/>
<text x="54.40" y="762.20" font-size="5.88" text-anchor="middle" textLength="3.11" lengthAdjust="spacingAndGlyphs" class="s">0</text>
<text x="80.00" y="762.20" font-size="5.88" text-anchor="middle" textLength="10.90" lengthAdjust="spacingAndGlyphs" class="s">0.05</text>
<text x="105.60" y="762.20" font-size="5.88" text-anchor="middle" textLength="10.90" lengthAdjust="spacingAndGlyphs" class="s">0.10</text>
<text x="131.20" y="762.20" font-size="5.88" text-anchor="middle" textLength="10.90" lengthAdjust="spacingAndGlyphs" class="s">0.20</text>
<text x="156.80" y="762.20" font-size="5.88" text-anchor="middle" textLength="10.90" lengthAdjust="spacingAndGlyphs" class="s">0.40</text>
<text x="182.40" y="762.20" font-size="5.88" text-anchor="middle" textLength="10.90" lengthAdjust="spacingAndGlyphs" class="s">0.80</text>
<text x="120.00" y="775.90" font-size="8.40" text-anchor="middle" textLength="50.40" lengthAdjust="spacingAndGlyphs">10058-F4 [µM]</text>
<text x="28.20" y="706.00" font-size="8.21" text-anchor="middle" textLength="87.43" lengthAdjust="spacingAndGlyphs" transform="rotate(-90 28.20 706.00)">Cell viability (% of control)</text>
<rect x="199.3" y="681.0" width="94.4" height="73.4" fill="none" stroke="#111" stroke-width="1.2"/>
<line x1="204.50" y1="700.00" x2="236.30" y2="700.00" stroke="#111" stroke-width="1.4" stroke-linecap="butt"/>
<line x1="240.00" y1="700.00" x2="269.50" y2="700.00" stroke="#111" stroke-width="1.4" stroke-linecap="butt"/>
<line x1="272.50" y1="700.00" x2="289.50" y2="700.00" stroke="#111" stroke-width="1.4" stroke-linecap="butt"/>
<text x="220.00" y="688.40" font-size="6.20" text-anchor="middle" textLength="10.16" lengthAdjust="spacingAndGlyphs" class="s">Cell</text>
<text x="220.00" y="695.40" font-size="6.20" text-anchor="middle" textLength="9.18" lengthAdjust="spacingAndGlyphs" class="s">line</text>
<text x="255.00" y="688.40" font-size="6.20" text-anchor="middle" textLength="28.97" lengthAdjust="spacingAndGlyphs" class="s">Lymphoma</text>
<text x="255.00" y="695.40" font-size="6.20" text-anchor="middle" textLength="20.66" lengthAdjust="spacingAndGlyphs" class="s">subtype</text>
<text x="280.80" y="688.40" font-size="6.20" text-anchor="middle" textLength="13.11" lengthAdjust="spacingAndGlyphs" class="s">MYC</text>
<text x="280.80" y="695.40" font-size="6.20" text-anchor="middle" textLength="15.74" lengthAdjust="spacingAndGlyphs" class="s">status</text>
<line x1="205.50" y1="707.50" x2="212.50" y2="707.50" stroke="#3AA8B2" stroke-width="1.6" stroke-linecap="butt"/>
<text x="213.80" y="709.60" font-size="5.80" text-anchor="start" textLength="21.27" lengthAdjust="spacingAndGlyphs" class="s">Maver-1</text>
<text x="255.00" y="709.60" font-size="5.80" text-anchor="middle" textLength="12.25" lengthAdjust="spacingAndGlyphs" class="s">MCL</text>
<text x="280.80" y="709.80" font-size="6.60" text-anchor="middle" textLength="3.85" lengthAdjust="spacingAndGlyphs" class="s">+</text>
<line x1="205.50" y1="718.00" x2="212.50" y2="718.00" stroke="#26705A" stroke-width="1.6" stroke-linecap="butt"/>
<polygon points="205.80,718.00 209.00,716.00 212.20,718.00 209.00,720.00" fill="#26705A"/>
<text x="213.80" y="720.10" font-size="5.80" text-anchor="start" textLength="15.15" lengthAdjust="spacingAndGlyphs" class="s">Z-138</text>
<text x="255.00" y="720.10" font-size="5.80" text-anchor="middle" textLength="12.25" lengthAdjust="spacingAndGlyphs" class="s">MCL</text>
<text x="280.80" y="720.30" font-size="6.60" text-anchor="middle" textLength="3.85" lengthAdjust="spacingAndGlyphs" class="s">+</text>
<line x1="205.50" y1="728.50" x2="212.50" y2="728.50" stroke="#B0C860" stroke-width="1.6" stroke-linecap="butt"/>
<polygon points="205.80,728.50 209.00,726.50 212.20,728.50 209.00,730.50" fill="#B0C860"/>
<text x="213.80" y="730.60" font-size="5.80" text-anchor="start" textLength="15.47" lengthAdjust="spacingAndGlyphs" class="s">Rec-1</text>
<text x="255.00" y="730.60" font-size="5.80" text-anchor="middle" textLength="12.25" lengthAdjust="spacingAndGlyphs" class="s">MCL</text>
<text x="280.80" y="730.80" font-size="6.60" text-anchor="middle" textLength="3.85" lengthAdjust="spacingAndGlyphs" class="s">+</text>
<line x1="205.50" y1="739.00" x2="212.50" y2="739.00" stroke="#35925F" stroke-width="1.6" stroke-linecap="butt"/>
<polygon points="205.80,739.00 209.00,737.00 212.20,739.00 209.00,741.00" fill="#35925F"/>
<text x="213.80" y="741.10" font-size="5.80" text-anchor="start" textLength="12.57" lengthAdjust="spacingAndGlyphs" class="s">Mino</text>
<text x="255.00" y="741.10" font-size="5.80" text-anchor="middle" textLength="12.25" lengthAdjust="spacingAndGlyphs" class="s">MCL</text>
<text x="280.80" y="741.30" font-size="6.60" text-anchor="middle" textLength="3.85" lengthAdjust="spacingAndGlyphs" class="s">+</text>
<line x1="205.50" y1="749.50" x2="212.50" y2="749.50" stroke="#111111" stroke-width="1.6" stroke-linecap="butt"/>
<polygon points="205.80,749.50 209.00,747.50 212.20,749.50 209.00,751.50" fill="#111111"/>
<text x="213.80" y="751.60" font-size="5.80" text-anchor="start" textLength="13.87" lengthAdjust="spacingAndGlyphs" class="s">U266</text>
<text x="255.00" y="751.60" font-size="5.80" text-anchor="middle" textLength="9.66" lengthAdjust="spacingAndGlyphs" class="s">MM</text>
<text x="280.80" y="751.80" font-size="6.60" text-anchor="middle" textLength="2.20" lengthAdjust="spacingAndGlyphs" class="s">-</text>
</svg></div></body></html>
